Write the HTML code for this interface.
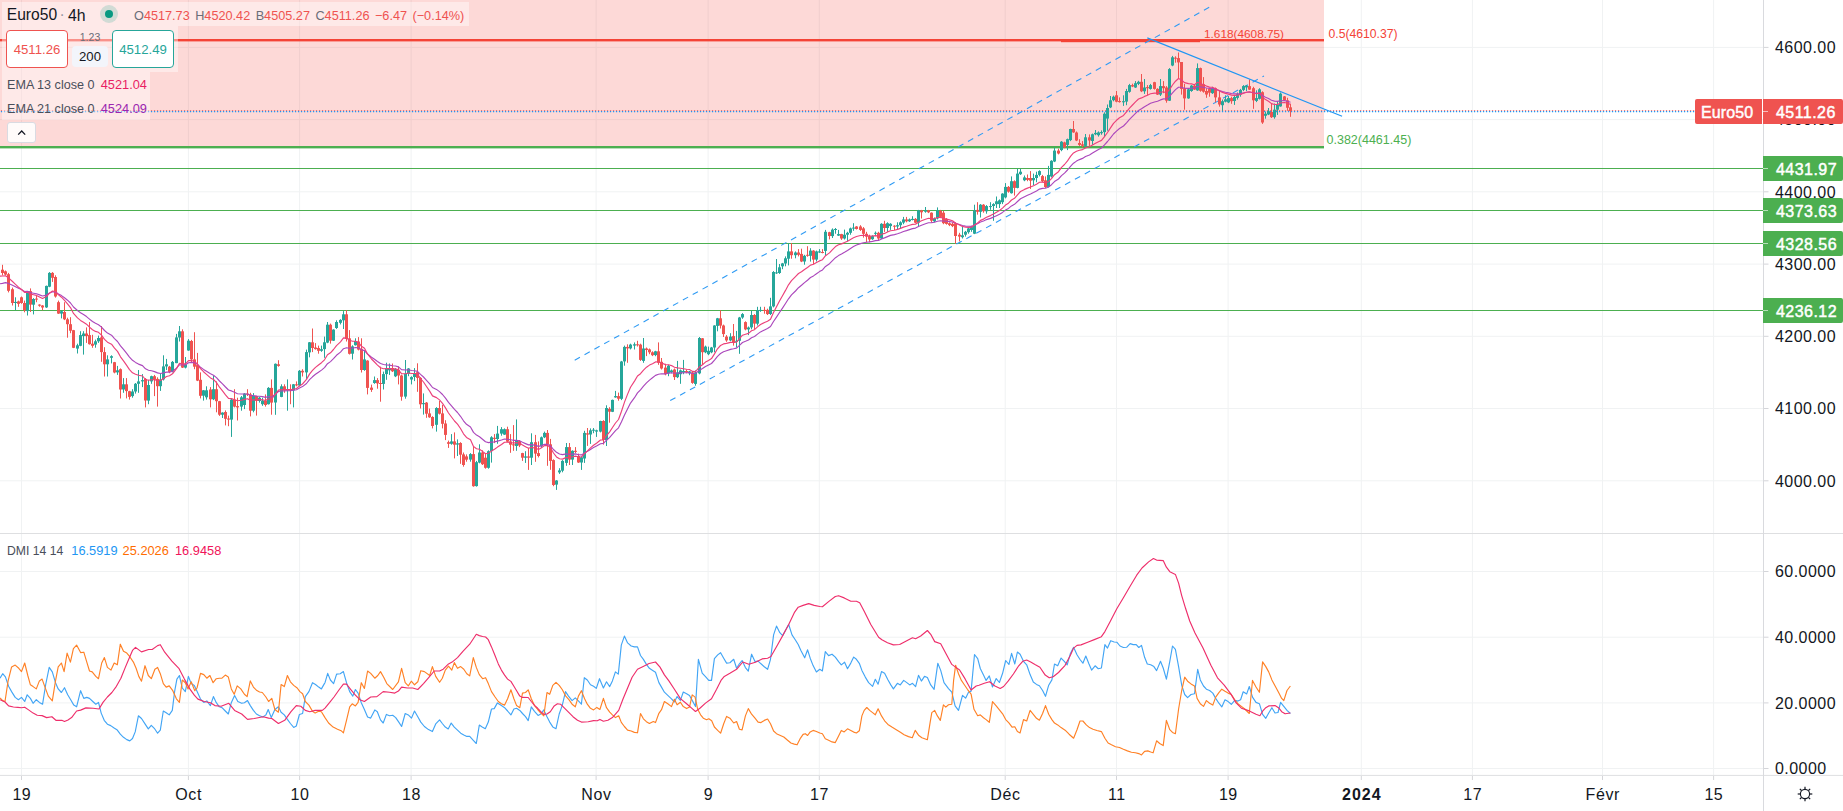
<!DOCTYPE html><html><head><meta charset="utf-8"><title>Euro50 4h</title><style>
html,body{margin:0;padding:0;background:#fff}
body{width:1843px;height:811px;position:relative;overflow:hidden;font-family:"Liberation Sans",sans-serif}
.t{position:absolute;white-space:nowrap;color:#131722}
.c{text-align:center}
.k{color:#6a6d78}
.lab{position:absolute;height:25px;line-height:28px;letter-spacing:0.45px;font-size:16px;color:#fff;box-sizing:border-box;white-space:nowrap;-webkit-text-stroke:0.45px #fff}
.lg{position:absolute;background:rgba(255,255,255,0.42)}
.btn{position:absolute;width:60px;height:35.5px;border:1px solid;border-radius:4px;background:#fff;text-align:center;font-size:13.2px;line-height:38.4px}
</style></head><body><svg width="1843" height="811" viewBox="0 0 1843 811" style="position:absolute;left:0;top:0"><rect x="21.0" y="0" width="1" height="775" fill="#f0f2f3"/><rect x="187.9" y="0" width="1" height="775" fill="#f0f2f3"/><rect x="299.1" y="0" width="1" height="775" fill="#f0f2f3"/><rect x="410.6" y="0" width="1" height="775" fill="#f0f2f3"/><rect x="595.6" y="0" width="1" height="775" fill="#f0f2f3"/><rect x="707.6" y="0" width="1" height="775" fill="#f0f2f3"/><rect x="818.8" y="0" width="1" height="775" fill="#f0f2f3"/><rect x="1004.7" y="0" width="1" height="775" fill="#f0f2f3"/><rect x="1116.0" y="0" width="1" height="775" fill="#f0f2f3"/><rect x="1227.6" y="0" width="1" height="775" fill="#f0f2f3"/><rect x="1360.8" y="0" width="1" height="775" fill="#f0f2f3"/><rect x="1471.9" y="0" width="1" height="775" fill="#f0f2f3"/><rect x="1602.0" y="0" width="1" height="775" fill="#f0f2f3"/><rect x="1713.1" y="0" width="1" height="775" fill="#f0f2f3"/><rect x="0" y="46.9" width="1763" height="1" fill="#f0f2f3"/><rect x="0" y="119.1" width="1763" height="1" fill="#f0f2f3"/><rect x="0" y="191.3" width="1763" height="1" fill="#f0f2f3"/><rect x="0" y="263.6" width="1763" height="1" fill="#f0f2f3"/><rect x="0" y="335.8" width="1763" height="1" fill="#f0f2f3"/><rect x="0" y="408.0" width="1763" height="1" fill="#f0f2f3"/><rect x="0" y="480.3" width="1763" height="1" fill="#f0f2f3"/><rect x="0" y="571.0" width="1763" height="1" fill="#f0f2f3"/><rect x="0" y="636.7" width="1763" height="1" fill="#f0f2f3"/><rect x="0" y="702.4" width="1763" height="1" fill="#f0f2f3"/><rect x="0" y="768.0" width="1763" height="1" fill="#f0f2f3"/>
<rect x="0" y="0" width="1324" height="147" fill="#f44336" fill-opacity="0.2"/>
<rect x="0" y="168" width="1763" height="1" fill="#4caf50"/>
<rect x="0" y="210" width="1763" height="1" fill="#4caf50"/>
<rect x="0" y="243" width="1763" height="1" fill="#4caf50"/>
<rect x="0" y="310" width="1763" height="1" fill="#4caf50"/>
<rect x="0" y="146" width="1324" height="2.4" fill="#4caf50"/>
<rect x="0" y="39" width="1324" height="2.4" fill="#f44336"/>
<rect x="1061" y="39.6" width="139" height="2.6" fill="#f44336"/>
<g stroke="#2f9bf4" stroke-width="1.1" stroke-dasharray="6 5.25" fill="none"><line x1="574.7" y1="360.2" x2="1213.6" y2="4.9"/><line x1="670.2" y1="400.6" x2="1264" y2="75.9"/></g>
<line x1="0.9" y1="110.5" x2="1695" y2="110.5" stroke="#ef5350" stroke-width="0.85" stroke-opacity="0.9" stroke-dasharray="1.3 1.7"/>
<line x1="0.9" y1="111.55" x2="1695" y2="111.55" stroke="#2196f3" stroke-width="1.25" stroke-dasharray="1.3 1.7"/>
<g><rect x="2" y="264.8" width="1" height="10.6" fill="#ef5350"/><rect x="5" y="270.5" width="1" height="4.9" fill="#ef5350"/><rect x="8" y="272.9" width="1" height="19.5" fill="#ef5350"/><rect x="12" y="287.6" width="1" height="17.9" fill="#ef5350"/><rect x="15" y="297.3" width="1" height="13.0" fill="#26a69a"/><rect x="18" y="300.6" width="1" height="6.2" fill="#ef5350"/><rect x="21" y="296.5" width="1" height="7.3" fill="#ef5350"/><rect x="24" y="300.6" width="1" height="11.7" fill="#ef5350"/><rect x="27" y="291.1" width="1" height="24.4" fill="#26a69a"/><rect x="30" y="288.4" width="1" height="23.6" fill="#ef5350"/><rect x="33" y="298.1" width="1" height="16.3" fill="#26a69a"/><rect x="36" y="295.7" width="1" height="6.5" fill="#ef5350"/><rect x="39" y="304.3" width="1" height="2.4" fill="#ef5350"/><rect x="42" y="305.1" width="1" height="5.2" fill="#ef5350"/><rect x="46" y="285.6" width="1" height="22.3" fill="#26a69a"/><rect x="49" y="272.1" width="1" height="15.1" fill="#26a69a"/><rect x="52" y="272.1" width="1" height="9.8" fill="#ef5350"/><rect x="55" y="275.3" width="1" height="22.3" fill="#ef5350"/><rect x="58" y="300.6" width="1" height="13.3" fill="#ef5350"/><rect x="61" y="310.3" width="1" height="8.1" fill="#26a69a"/><rect x="64" y="302.2" width="1" height="17.9" fill="#ef5350"/><rect x="67" y="317.7" width="1" height="20.0" fill="#ef5350"/><rect x="70" y="317.2" width="1" height="16.0" fill="#ef5350"/><rect x="73" y="329.9" width="1" height="18.2" fill="#ef5350"/><rect x="77" y="343.7" width="1" height="9.8" fill="#26a69a"/><rect x="80" y="331.2" width="1" height="15.0" fill="#26a69a"/><rect x="83" y="331.2" width="1" height="23.4" fill="#26a69a"/><rect x="86" y="327.4" width="1" height="15.5" fill="#ef5350"/><rect x="89" y="322.1" width="1" height="22.5" fill="#ef5350"/><rect x="92" y="334.8" width="1" height="13.0" fill="#ef5350"/><rect x="95" y="339.6" width="1" height="8.1" fill="#26a69a"/><rect x="98" y="335.6" width="1" height="7.3" fill="#26a69a"/><rect x="101" y="326.0" width="1" height="35.8" fill="#ef5350"/><rect x="104" y="347.2" width="1" height="29.3" fill="#ef5350"/><rect x="107" y="355.3" width="1" height="21.2" fill="#26a69a"/><rect x="111" y="355.3" width="1" height="8.1" fill="#26a69a"/><rect x="114" y="361.9" width="1" height="11.4" fill="#ef5350"/><rect x="117" y="365.9" width="1" height="9.0" fill="#26a69a"/><rect x="120" y="368.4" width="1" height="30.1" fill="#ef5350"/><rect x="123" y="378.1" width="1" height="14.7" fill="#26a69a"/><rect x="126" y="378.1" width="1" height="20.3" fill="#ef5350"/><rect x="129" y="390.8" width="1" height="8.8" fill="#ef5350"/><rect x="132" y="389.2" width="1" height="8.5" fill="#26a69a"/><rect x="135" y="383.0" width="1" height="10.6" fill="#26a69a"/><rect x="138" y="370.0" width="1" height="22.8" fill="#26a69a"/><rect x="142" y="374.1" width="1" height="13.0" fill="#26a69a"/><rect x="145" y="378.1" width="1" height="29.3" fill="#ef5350"/><rect x="148" y="379.8" width="1" height="24.4" fill="#26a69a"/><rect x="151" y="375.7" width="1" height="8.1" fill="#26a69a"/><rect x="154" y="374.9" width="1" height="21.2" fill="#ef5350"/><rect x="157" y="377.3" width="1" height="29.3" fill="#ef5350"/><rect x="160" y="373.3" width="1" height="17.6" fill="#26a69a"/><rect x="163" y="355.3" width="1" height="25.2" fill="#26a69a"/><rect x="166" y="358.9" width="1" height="11.1" fill="#26a69a"/><rect x="169" y="365.9" width="1" height="7.3" fill="#ef5350"/><rect x="172" y="361.0" width="1" height="11.4" fill="#26a69a"/><rect x="176" y="333.9" width="1" height="29.3" fill="#26a69a"/><rect x="179" y="326.0" width="1" height="15.5" fill="#26a69a"/><rect x="182" y="329.3" width="1" height="38.7" fill="#ef5350"/><rect x="185" y="357.0" width="1" height="11.4" fill="#26a69a"/><rect x="188" y="339.1" width="1" height="11.7" fill="#26a69a"/><rect x="191" y="339.9" width="1" height="22.8" fill="#ef5350"/><rect x="194" y="332.2" width="1" height="37.0" fill="#ef5350"/><rect x="197" y="352.9" width="1" height="28.2" fill="#ef5350"/><rect x="200" y="372.4" width="1" height="26.0" fill="#ef5350"/><rect x="203" y="390.0" width="1" height="10.6" fill="#26a69a"/><rect x="206" y="386.3" width="1" height="13.3" fill="#26a69a"/><rect x="210" y="387.1" width="1" height="20.3" fill="#ef5350"/><rect x="213" y="375.7" width="1" height="24.4" fill="#26a69a"/><rect x="216" y="381.4" width="1" height="30.9" fill="#ef5350"/><rect x="219" y="400.9" width="1" height="15.0" fill="#ef5350"/><rect x="222" y="412.3" width="1" height="5.7" fill="#26a69a"/><rect x="225" y="410.4" width="1" height="15.0" fill="#ef5350"/><rect x="228" y="415.6" width="1" height="10.6" fill="#ef5350"/><rect x="231" y="398.5" width="1" height="38.4" fill="#26a69a"/><rect x="234" y="389.2" width="1" height="18.2" fill="#ef5350"/><rect x="237" y="397.7" width="1" height="22.8" fill="#ef5350"/><rect x="241" y="396.0" width="1" height="14.7" fill="#26a69a"/><rect x="244" y="393.1" width="1" height="16.0" fill="#26a69a"/><rect x="247" y="389.2" width="1" height="6.8" fill="#ef5350"/><rect x="250" y="392.8" width="1" height="23.6" fill="#ef5350"/><rect x="253" y="393.1" width="1" height="19.2" fill="#26a69a"/><rect x="256" y="395.7" width="1" height="19.9" fill="#ef5350"/><rect x="259" y="396.9" width="1" height="5.7" fill="#26a69a"/><rect x="262" y="397.7" width="1" height="8.1" fill="#26a69a"/><rect x="265" y="394.4" width="1" height="12.2" fill="#ef5350"/><rect x="268" y="387.1" width="1" height="17.4" fill="#26a69a"/><rect x="271" y="379.4" width="1" height="35.3" fill="#ef5350"/><rect x="275" y="363.5" width="1" height="51.3" fill="#26a69a"/><rect x="278" y="360.2" width="1" height="6.5" fill="#ef5350"/><rect x="281" y="384.3" width="1" height="12.9" fill="#26a69a"/><rect x="284" y="384.3" width="1" height="8.5" fill="#ef5350"/><rect x="287" y="379.4" width="1" height="31.3" fill="#26a69a"/><rect x="290" y="384.3" width="1" height="19.9" fill="#ef5350"/><rect x="293" y="384.0" width="1" height="23.4" fill="#26a69a"/><rect x="296" y="381.4" width="1" height="4.9" fill="#ef5350"/><rect x="299" y="370.0" width="1" height="16.3" fill="#26a69a"/><rect x="302" y="369.2" width="1" height="7.3" fill="#ef5350"/><rect x="306" y="349.6" width="1" height="29.3" fill="#26a69a"/><rect x="309" y="342.0" width="1" height="15.3" fill="#26a69a"/><rect x="312" y="328.5" width="1" height="23.6" fill="#ef5350"/><rect x="315" y="343.1" width="1" height="6.5" fill="#ef5350"/><rect x="318" y="345.6" width="1" height="8.1" fill="#ef5350"/><rect x="321" y="345.6" width="1" height="6.2" fill="#26a69a"/><rect x="324" y="336.6" width="1" height="21.2" fill="#26a69a"/><rect x="327" y="322.0" width="1" height="21.2" fill="#26a69a"/><rect x="330" y="323.6" width="1" height="20.0" fill="#ef5350"/><rect x="333" y="329.3" width="1" height="11.7" fill="#26a69a"/><rect x="336" y="320.3" width="1" height="8.6" fill="#26a69a"/><rect x="340" y="319.2" width="1" height="5.2" fill="#26a69a"/><rect x="343" y="311.1" width="1" height="17.9" fill="#26a69a"/><rect x="346" y="310.1" width="1" height="31.4" fill="#ef5350"/><rect x="349" y="330.1" width="1" height="24.4" fill="#ef5350"/><rect x="352" y="345.3" width="1" height="14.2" fill="#26a69a"/><rect x="355" y="338.3" width="1" height="7.3" fill="#26a69a"/><rect x="358" y="337.1" width="1" height="13.3" fill="#ef5350"/><rect x="361" y="338.3" width="1" height="34.2" fill="#ef5350"/><rect x="364" y="350.8" width="1" height="20.0" fill="#26a69a"/><rect x="367" y="360.2" width="1" height="34.2" fill="#ef5350"/><rect x="371" y="384.6" width="1" height="7.3" fill="#ef5350"/><rect x="374" y="376.5" width="1" height="7.3" fill="#26a69a"/><rect x="377" y="378.1" width="1" height="10.6" fill="#ef5350"/><rect x="380" y="366.7" width="1" height="35.0" fill="#ef5350"/><rect x="383" y="371.6" width="1" height="17.9" fill="#26a69a"/><rect x="386" y="362.7" width="1" height="17.1" fill="#26a69a"/><rect x="389" y="363.5" width="1" height="11.4" fill="#26a69a"/><rect x="392" y="363.5" width="1" height="8.5" fill="#ef5350"/><rect x="395" y="368.1" width="1" height="9.0" fill="#26a69a"/><rect x="398" y="366.5" width="1" height="17.9" fill="#ef5350"/><rect x="401" y="374.7" width="1" height="26.0" fill="#ef5350"/><rect x="405" y="360.0" width="1" height="38.7" fill="#26a69a"/><rect x="408" y="368.1" width="1" height="8.1" fill="#26a69a"/><rect x="411" y="376.3" width="1" height="8.1" fill="#26a69a"/><rect x="414" y="368.1" width="1" height="13.0" fill="#26a69a"/><rect x="417" y="363.3" width="1" height="28.5" fill="#ef5350"/><rect x="420" y="377.1" width="1" height="31.4" fill="#ef5350"/><rect x="423" y="393.4" width="1" height="21.2" fill="#26a69a"/><rect x="426" y="402.0" width="1" height="15.8" fill="#ef5350"/><rect x="429" y="408.5" width="1" height="9.3" fill="#ef5350"/><rect x="432" y="416.2" width="1" height="12.2" fill="#ef5350"/><rect x="436" y="407.2" width="1" height="24.4" fill="#26a69a"/><rect x="439" y="401.0" width="1" height="13.5" fill="#ef5350"/><rect x="442" y="404.8" width="1" height="23.6" fill="#ef5350"/><rect x="445" y="420.2" width="1" height="19.9" fill="#ef5350"/><rect x="448" y="440.6" width="1" height="7.3" fill="#ef5350"/><rect x="451" y="434.1" width="1" height="10.6" fill="#26a69a"/><rect x="454" y="432.4" width="1" height="26.0" fill="#ef5350"/><rect x="457" y="439.4" width="1" height="16.6" fill="#26a69a"/><rect x="460" y="442.2" width="1" height="21.6" fill="#ef5350"/><rect x="463" y="452.5" width="1" height="14.2" fill="#ef5350"/><rect x="466" y="454.4" width="1" height="7.3" fill="#ef5350"/><rect x="470" y="453.1" width="1" height="8.6" fill="#26a69a"/><rect x="473" y="446.3" width="1" height="40.4" fill="#ef5350"/><rect x="476" y="460.9" width="1" height="25.7" fill="#26a69a"/><rect x="479" y="444.3" width="1" height="19.0" fill="#26a69a"/><rect x="482" y="450.3" width="1" height="14.7" fill="#ef5350"/><rect x="485" y="453.6" width="1" height="15.1" fill="#ef5350"/><rect x="488" y="450.3" width="1" height="18.4" fill="#26a69a"/><rect x="491" y="436.2" width="1" height="26.4" fill="#26a69a"/><rect x="494" y="434.1" width="1" height="9.0" fill="#ef5350"/><rect x="497" y="425.9" width="1" height="17.9" fill="#26a69a"/><rect x="501" y="427.1" width="1" height="8.6" fill="#26a69a"/><rect x="504" y="428.4" width="1" height="6.5" fill="#26a69a"/><rect x="507" y="426.7" width="1" height="15.5" fill="#ef5350"/><rect x="510" y="434.1" width="1" height="18.7" fill="#ef5350"/><rect x="513" y="425.1" width="1" height="25.7" fill="#ef5350"/><rect x="516" y="419.4" width="1" height="31.4" fill="#26a69a"/><rect x="519" y="440.1" width="1" height="7.0" fill="#ef5350"/><rect x="522" y="452.8" width="1" height="8.1" fill="#ef5350"/><rect x="525" y="451.2" width="1" height="11.7" fill="#26a69a"/><rect x="528" y="447.9" width="1" height="22.0" fill="#ef5350"/><rect x="531" y="433.3" width="1" height="31.7" fill="#26a69a"/><rect x="535" y="434.9" width="1" height="26.9" fill="#ef5350"/><rect x="538" y="441.4" width="1" height="16.0" fill="#ef5350"/><rect x="541" y="436.5" width="1" height="11.4" fill="#26a69a"/><rect x="544" y="431.6" width="1" height="6.5" fill="#26a69a"/><rect x="547" y="430.0" width="1" height="35.8" fill="#ef5350"/><rect x="550" y="438.9" width="1" height="30.9" fill="#ef5350"/><rect x="553" y="459.3" width="1" height="26.9" fill="#ef5350"/><rect x="556" y="480.1" width="1" height="9.8" fill="#26a69a"/><rect x="559" y="468.2" width="1" height="5.7" fill="#26a69a"/><rect x="562" y="460.1" width="1" height="12.2" fill="#26a69a"/><rect x="566" y="443.0" width="1" height="22.8" fill="#26a69a"/><rect x="569" y="443.0" width="1" height="22.0" fill="#ef5350"/><rect x="572" y="450.3" width="1" height="14.7" fill="#26a69a"/><rect x="575" y="447.1" width="1" height="6.0" fill="#ef5350"/><rect x="578" y="453.6" width="1" height="9.3" fill="#ef5350"/><rect x="581" y="456.4" width="1" height="13.5" fill="#26a69a"/><rect x="584" y="430.8" width="1" height="32.1" fill="#26a69a"/><rect x="587" y="428.0" width="1" height="17.9" fill="#ef5350"/><rect x="590" y="428.4" width="1" height="15.5" fill="#26a69a"/><rect x="593" y="428.0" width="1" height="5.2" fill="#26a69a"/><rect x="596" y="429.7" width="1" height="7.2" fill="#26a69a"/><rect x="600" y="420.7" width="1" height="11.7" fill="#26a69a"/><rect x="603" y="420.2" width="1" height="24.4" fill="#ef5350"/><rect x="606" y="405.3" width="1" height="40.7" fill="#26a69a"/><rect x="609" y="407.2" width="1" height="15.5" fill="#ef5350"/><rect x="612" y="399.6" width="1" height="12.5" fill="#26a69a"/><rect x="615" y="390.9" width="1" height="6.8" fill="#26a69a"/><rect x="618" y="392.6" width="1" height="8.1" fill="#ef5350"/><rect x="621" y="360.9" width="1" height="39.2" fill="#26a69a"/><rect x="624" y="345.6" width="1" height="20.1" fill="#26a69a"/><rect x="627" y="344.3" width="1" height="18.5" fill="#ef5350"/><rect x="630" y="343.7" width="1" height="5.7" fill="#26a69a"/><rect x="634" y="342.4" width="1" height="7.1" fill="#26a69a"/><rect x="637" y="340.8" width="1" height="5.7" fill="#ef5350"/><rect x="640" y="343.7" width="1" height="17.2" fill="#ef5350"/><rect x="643" y="338.0" width="1" height="24.8" fill="#26a69a"/><rect x="646" y="347.5" width="1" height="8.6" fill="#ef5350"/><rect x="649" y="348.5" width="1" height="5.7" fill="#ef5350"/><rect x="652" y="351.3" width="1" height="4.8" fill="#ef5350"/><rect x="655" y="350.8" width="1" height="5.4" fill="#26a69a"/><rect x="658" y="342.4" width="1" height="22.4" fill="#ef5350"/><rect x="661" y="358.0" width="1" height="11.5" fill="#ef5350"/><rect x="665" y="363.8" width="1" height="11.5" fill="#ef5350"/><rect x="668" y="364.7" width="1" height="11.5" fill="#26a69a"/><rect x="671" y="369.5" width="1" height="3.8" fill="#26a69a"/><rect x="674" y="368.5" width="1" height="11.5" fill="#ef5350"/><rect x="677" y="360.9" width="1" height="17.2" fill="#26a69a"/><rect x="680" y="369.5" width="1" height="14.3" fill="#26a69a"/><rect x="683" y="359.9" width="1" height="14.3" fill="#26a69a"/><rect x="686" y="369.5" width="1" height="3.8" fill="#ef5350"/><rect x="689" y="371.0" width="1" height="4.2" fill="#26a69a"/><rect x="692" y="371.4" width="1" height="12.4" fill="#ef5350"/><rect x="695" y="370.4" width="1" height="15.3" fill="#26a69a"/><rect x="699" y="337.0" width="1" height="37.3" fill="#26a69a"/><rect x="702" y="338.0" width="1" height="26.8" fill="#ef5350"/><rect x="705" y="345.6" width="1" height="7.6" fill="#26a69a"/><rect x="708" y="346.6" width="1" height="8.6" fill="#26a69a"/><rect x="711" y="346.9" width="1" height="6.3" fill="#26a69a"/><rect x="714" y="325.2" width="1" height="27.1" fill="#26a69a"/><rect x="717" y="317.9" width="1" height="13.4" fill="#26a69a"/><rect x="720" y="310.3" width="1" height="18.2" fill="#ef5350"/><rect x="723" y="324.6" width="1" height="12.4" fill="#ef5350"/><rect x="726" y="335.1" width="1" height="6.7" fill="#ef5350"/><rect x="730" y="333.2" width="1" height="8.0" fill="#26a69a"/><rect x="733" y="324.0" width="1" height="21.6" fill="#ef5350"/><rect x="736" y="330.9" width="1" height="16.6" fill="#26a69a"/><rect x="739" y="316.9" width="1" height="36.9" fill="#26a69a"/><rect x="742" y="313.1" width="1" height="5.7" fill="#26a69a"/><rect x="745" y="321.3" width="1" height="9.0" fill="#ef5350"/><rect x="748" y="326.5" width="1" height="8.6" fill="#26a69a"/><rect x="751" y="310.6" width="1" height="18.7" fill="#26a69a"/><rect x="754" y="314.1" width="1" height="15.3" fill="#ef5350"/><rect x="757" y="306.8" width="1" height="18.7" fill="#26a69a"/><rect x="760" y="306.8" width="1" height="5.0" fill="#26a69a"/><rect x="764" y="306.8" width="1" height="6.9" fill="#ef5350"/><rect x="767" y="308.7" width="1" height="6.3" fill="#ef5350"/><rect x="770" y="297.8" width="1" height="17.2" fill="#26a69a"/><rect x="773" y="271.1" width="1" height="36.3" fill="#26a69a"/><rect x="776" y="259.0" width="1" height="14.9" fill="#26a69a"/><rect x="779" y="264.0" width="1" height="9.9" fill="#26a69a"/><rect x="782" y="262.9" width="1" height="6.3" fill="#26a69a"/><rect x="785" y="256.4" width="1" height="9.9" fill="#26a69a"/><rect x="788" y="243.4" width="1" height="22.0" fill="#26a69a"/><rect x="791" y="243.0" width="1" height="15.7" fill="#ef5350"/><rect x="795" y="251.4" width="1" height="6.9" fill="#26a69a"/><rect x="798" y="249.1" width="1" height="7.3" fill="#ef5350"/><rect x="801" y="248.7" width="1" height="13.4" fill="#ef5350"/><rect x="804" y="254.8" width="1" height="9.9" fill="#26a69a"/><rect x="807" y="246.2" width="1" height="10.5" fill="#ef5350"/><rect x="810" y="248.2" width="1" height="13.4" fill="#26a69a"/><rect x="813" y="250.1" width="1" height="14.3" fill="#ef5350"/><rect x="816" y="250.6" width="1" height="10.9" fill="#26a69a"/><rect x="819" y="249.1" width="1" height="3.8" fill="#26a69a"/><rect x="822" y="249.1" width="1" height="4.2" fill="#ef5350"/><rect x="825" y="229.9" width="1" height="25.8" fill="#26a69a"/><rect x="829" y="231.8" width="1" height="7.6" fill="#ef5350"/><rect x="832" y="228.4" width="1" height="9.6" fill="#26a69a"/><rect x="835" y="228.0" width="1" height="5.7" fill="#26a69a"/><rect x="838" y="229.9" width="1" height="6.1" fill="#26a69a"/><rect x="841" y="233.8" width="1" height="6.1" fill="#ef5350"/><rect x="844" y="229.6" width="1" height="9.9" fill="#26a69a"/><rect x="847" y="231.8" width="1" height="9.6" fill="#26a69a"/><rect x="850" y="227.6" width="1" height="7.1" fill="#26a69a"/><rect x="853" y="223.2" width="1" height="7.6" fill="#26a69a"/><rect x="856" y="226.1" width="1" height="3.4" fill="#ef5350"/><rect x="860" y="225.2" width="1" height="5.7" fill="#ef5350"/><rect x="863" y="227.1" width="1" height="10.5" fill="#ef5350"/><rect x="866" y="231.8" width="1" height="10.5" fill="#ef5350"/><rect x="869" y="234.7" width="1" height="7.6" fill="#ef5350"/><rect x="872" y="235.3" width="1" height="4.6" fill="#26a69a"/><rect x="875" y="231.5" width="1" height="4.6" fill="#26a69a"/><rect x="878" y="231.8" width="1" height="8.6" fill="#ef5350"/><rect x="881" y="223.2" width="1" height="15.9" fill="#26a69a"/><rect x="884" y="220.8" width="1" height="11.1" fill="#ef5350"/><rect x="887" y="222.3" width="1" height="9.6" fill="#26a69a"/><rect x="890" y="223.2" width="1" height="6.7" fill="#26a69a"/><rect x="894" y="225.2" width="1" height="4.8" fill="#ef5350"/><rect x="897" y="222.3" width="1" height="6.7" fill="#26a69a"/><rect x="900" y="221.3" width="1" height="6.7" fill="#26a69a"/><rect x="903" y="216.9" width="1" height="7.3" fill="#26a69a"/><rect x="906" y="216.9" width="1" height="5.4" fill="#ef5350"/><rect x="909" y="218.5" width="1" height="3.4" fill="#26a69a"/><rect x="912" y="216.2" width="1" height="4.2" fill="#26a69a"/><rect x="915" y="218.1" width="1" height="5.2" fill="#ef5350"/><rect x="918" y="209.9" width="1" height="16.2" fill="#26a69a"/><rect x="921" y="209.9" width="1" height="8.6" fill="#ef5350"/><rect x="925" y="207.0" width="1" height="5.7" fill="#26a69a"/><rect x="928" y="209.9" width="1" height="3.2" fill="#ef5350"/><rect x="931" y="212.4" width="1" height="9.9" fill="#ef5350"/><rect x="934" y="217.5" width="1" height="4.8" fill="#26a69a"/><rect x="937" y="207.4" width="1" height="12.0" fill="#26a69a"/><rect x="940" y="209.9" width="1" height="8.2" fill="#ef5350"/><rect x="943" y="210.8" width="1" height="13.4" fill="#ef5350"/><rect x="946" y="218.1" width="1" height="6.5" fill="#ef5350"/><rect x="949" y="222.3" width="1" height="3.8" fill="#ef5350"/><rect x="952" y="222.3" width="1" height="4.8" fill="#ef5350"/><rect x="955" y="222.3" width="1" height="21.4" fill="#ef5350"/><rect x="959" y="232.8" width="1" height="8.6" fill="#ef5350"/><rect x="962" y="226.1" width="1" height="12.4" fill="#26a69a"/><rect x="965" y="230.9" width="1" height="5.7" fill="#26a69a"/><rect x="968" y="227.6" width="1" height="6.1" fill="#26a69a"/><rect x="971" y="225.7" width="1" height="6.1" fill="#26a69a"/><rect x="974" y="204.7" width="1" height="29.4" fill="#26a69a"/><rect x="977" y="202.2" width="1" height="12.4" fill="#ef5350"/><rect x="980" y="204.1" width="1" height="13.4" fill="#26a69a"/><rect x="983" y="204.1" width="1" height="8.6" fill="#ef5350"/><rect x="986" y="205.1" width="1" height="8.6" fill="#26a69a"/><rect x="990" y="202.2" width="1" height="7.6" fill="#26a69a"/><rect x="993" y="203.2" width="1" height="17.6" fill="#26a69a"/><rect x="996" y="196.5" width="1" height="11.5" fill="#26a69a"/><rect x="999" y="199.4" width="1" height="8.6" fill="#26a69a"/><rect x="1002" y="193.2" width="1" height="10.9" fill="#26a69a"/><rect x="1005" y="183.1" width="1" height="15.3" fill="#26a69a"/><rect x="1008" y="186.0" width="1" height="6.7" fill="#ef5350"/><rect x="1011" y="176.4" width="1" height="17.2" fill="#26a69a"/><rect x="1014" y="180.3" width="1" height="15.3" fill="#ef5350"/><rect x="1017" y="168.8" width="1" height="19.5" fill="#26a69a"/><rect x="1020" y="168.8" width="1" height="6.1" fill="#26a69a"/><rect x="1024" y="175.5" width="1" height="5.7" fill="#26a69a"/><rect x="1027" y="174.5" width="1" height="6.7" fill="#ef5350"/><rect x="1030" y="171.1" width="1" height="17.8" fill="#ef5350"/><rect x="1033" y="173.6" width="1" height="11.5" fill="#26a69a"/><rect x="1036" y="171.7" width="1" height="10.5" fill="#26a69a"/><rect x="1039" y="170.3" width="1" height="6.1" fill="#26a69a"/><rect x="1042" y="174.9" width="1" height="7.3" fill="#ef5350"/><rect x="1045" y="176.4" width="1" height="11.5" fill="#ef5350"/><rect x="1048" y="165.9" width="1" height="21.6" fill="#26a69a"/><rect x="1051" y="160.2" width="1" height="17.2" fill="#26a69a"/><rect x="1054" y="147.8" width="1" height="14.3" fill="#26a69a"/><rect x="1058" y="148.7" width="1" height="5.7" fill="#ef5350"/><rect x="1061" y="141.1" width="1" height="10.1" fill="#26a69a"/><rect x="1064" y="141.7" width="1" height="6.5" fill="#ef5350"/><rect x="1067" y="138.6" width="1" height="11.5" fill="#26a69a"/><rect x="1070" y="128.7" width="1" height="12.4" fill="#26a69a"/><rect x="1073" y="121.0" width="1" height="11.8" fill="#ef5350"/><rect x="1076" y="131.5" width="1" height="9.6" fill="#ef5350"/><rect x="1079" y="139.2" width="1" height="6.7" fill="#ef5350"/><rect x="1082" y="141.1" width="1" height="6.3" fill="#ef5350"/><rect x="1085" y="134.0" width="1" height="12.8" fill="#26a69a"/><rect x="1089" y="134.4" width="1" height="11.5" fill="#ef5350"/><rect x="1092" y="133.6" width="1" height="11.3" fill="#26a69a"/><rect x="1095" y="130.0" width="1" height="5.2" fill="#26a69a"/><rect x="1098" y="131.4" width="1" height="5.2" fill="#26a69a"/><rect x="1101" y="130.4" width="1" height="4.3" fill="#26a69a"/><rect x="1104" y="112.3" width="1" height="24.8" fill="#26a69a"/><rect x="1107" y="104.5" width="1" height="26.2" fill="#26a69a"/><rect x="1110" y="96.0" width="1" height="12.1" fill="#26a69a"/><rect x="1113" y="95.6" width="1" height="5.7" fill="#26a69a"/><rect x="1116" y="91.0" width="1" height="11.3" fill="#ef5350"/><rect x="1119" y="97.4" width="1" height="5.2" fill="#ef5350"/><rect x="1123" y="95.3" width="1" height="10.6" fill="#26a69a"/><rect x="1126" y="88.9" width="1" height="16.3" fill="#26a69a"/><rect x="1129" y="83.9" width="1" height="8.8" fill="#26a69a"/><rect x="1132" y="83.7" width="1" height="3.4" fill="#ef5350"/><rect x="1135" y="81.1" width="1" height="6.8" fill="#26a69a"/><rect x="1138" y="80.8" width="1" height="4.3" fill="#26a69a"/><rect x="1141" y="74.0" width="1" height="18.1" fill="#ef5350"/><rect x="1144" y="79.0" width="1" height="14.9" fill="#26a69a"/><rect x="1147" y="85.1" width="1" height="10.2" fill="#ef5350"/><rect x="1150" y="83.9" width="1" height="5.7" fill="#26a69a"/><rect x="1154" y="81.8" width="1" height="7.8" fill="#ef5350"/><rect x="1157" y="88.2" width="1" height="6.8" fill="#ef5350"/><rect x="1160" y="79.0" width="1" height="17.0" fill="#26a69a"/><rect x="1163" y="81.1" width="1" height="12.1" fill="#ef5350"/><rect x="1166" y="86.1" width="1" height="16.6" fill="#ef5350"/><rect x="1169" y="68.1" width="1" height="32.9" fill="#26a69a"/><rect x="1172" y="55.9" width="1" height="10.3" fill="#26a69a"/><rect x="1175" y="56.3" width="1" height="6.4" fill="#ef5350"/><rect x="1178" y="52.5" width="1" height="26.5" fill="#ef5350"/><rect x="1181" y="62.0" width="1" height="32.6" fill="#ef5350"/><rect x="1184" y="83.9" width="1" height="25.8" fill="#ef5350"/><rect x="1188" y="88.9" width="1" height="9.9" fill="#26a69a"/><rect x="1191" y="85.1" width="1" height="6.7" fill="#26a69a"/><rect x="1194" y="84.7" width="1" height="5.2" fill="#ef5350"/><rect x="1197" y="63.4" width="1" height="27.4" fill="#26a69a"/><rect x="1200" y="67.6" width="1" height="24.1" fill="#ef5350"/><rect x="1203" y="77.1" width="1" height="15.6" fill="#ef5350"/><rect x="1206" y="88.2" width="1" height="9.6" fill="#ef5350"/><rect x="1209" y="87.5" width="1" height="9.2" fill="#ef5350"/><rect x="1212" y="86.8" width="1" height="7.1" fill="#26a69a"/><rect x="1215" y="87.5" width="1" height="14.9" fill="#ef5350"/><rect x="1219" y="91.0" width="1" height="15.6" fill="#ef5350"/><rect x="1222" y="99.5" width="1" height="11.3" fill="#26a69a"/><rect x="1225" y="95.3" width="1" height="7.1" fill="#26a69a"/><rect x="1228" y="96.0" width="1" height="7.1" fill="#26a69a"/><rect x="1231" y="96.7" width="1" height="7.1" fill="#ef5350"/><rect x="1234" y="96.0" width="1" height="8.9" fill="#26a69a"/><rect x="1237" y="92.5" width="1" height="7.1" fill="#26a69a"/><rect x="1240" y="88.9" width="1" height="7.8" fill="#26a69a"/><rect x="1243" y="85.1" width="1" height="6.0" fill="#26a69a"/><rect x="1246" y="85.1" width="1" height="6.0" fill="#26a69a"/><rect x="1249" y="79.4" width="1" height="10.5" fill="#ef5350"/><rect x="1253" y="86.8" width="1" height="22.0" fill="#ef5350"/><rect x="1256" y="90.3" width="1" height="11.8" fill="#26a69a"/><rect x="1259" y="88.2" width="1" height="11.3" fill="#26a69a"/><rect x="1262" y="91.3" width="1" height="32.6" fill="#ef5350"/><rect x="1265" y="111.6" width="1" height="7.1" fill="#26a69a"/><rect x="1268" y="108.0" width="1" height="7.1" fill="#26a69a"/><rect x="1271" y="103.1" width="1" height="14.9" fill="#ef5350"/><rect x="1274" y="103.5" width="1" height="15.2" fill="#26a69a"/><rect x="1277" y="101.0" width="1" height="13.9" fill="#26a69a"/><rect x="1280" y="92.5" width="1" height="14.2" fill="#26a69a"/><rect x="1284" y="96.0" width="1" height="5.0" fill="#ef5350"/><rect x="1287" y="97.8" width="1" height="13.0" fill="#ef5350"/><rect x="1290" y="103.8" width="1" height="13.0" fill="#ef5350"/><rect x="1" y="269.7" width="3" height="3.3" fill="#ef5350"/><rect x="4" y="271.3" width="3" height="3.3" fill="#ef5350"/><rect x="7" y="274.2" width="3" height="16.6" fill="#ef5350"/><rect x="11" y="289.2" width="3" height="13.8" fill="#ef5350"/><rect x="14" y="301.9" width="3" height="1.1" fill="#26a69a"/><rect x="17" y="301.4" width="3" height="2.4" fill="#ef5350"/><rect x="20" y="297.3" width="3" height="5.7" fill="#ef5350"/><rect x="23" y="303.0" width="3" height="7.3" fill="#ef5350"/><rect x="26" y="291.1" width="3" height="20.0" fill="#26a69a"/><rect x="29" y="291.1" width="3" height="13.5" fill="#ef5350"/><rect x="32" y="299.0" width="3" height="5.7" fill="#26a69a"/><rect x="35" y="298.6" width="3" height="1.0" fill="#ef5350"/><rect x="38" y="304.6" width="3" height="1.1" fill="#ef5350"/><rect x="41" y="305.5" width="3" height="2.0" fill="#ef5350"/><rect x="45" y="285.9" width="3" height="21.5" fill="#26a69a"/><rect x="48" y="272.9" width="3" height="13.8" fill="#26a69a"/><rect x="51" y="272.9" width="3" height="4.9" fill="#ef5350"/><rect x="54" y="277.0" width="3" height="19.5" fill="#ef5350"/><rect x="57" y="302.2" width="3" height="11.4" fill="#ef5350"/><rect x="60" y="311.2" width="3" height="2.4" fill="#26a69a"/><rect x="63" y="312.0" width="3" height="7.3" fill="#ef5350"/><rect x="66" y="319.3" width="3" height="4.9" fill="#ef5350"/><rect x="69" y="324.2" width="3" height="6.5" fill="#ef5350"/><rect x="72" y="330.2" width="3" height="17.6" fill="#ef5350"/><rect x="76" y="345.3" width="3" height="3.3" fill="#26a69a"/><rect x="79" y="335.1" width="3" height="10.7" fill="#26a69a"/><rect x="82" y="333.5" width="3" height="2.6" fill="#26a69a"/><rect x="85" y="333.5" width="3" height="2.6" fill="#ef5350"/><rect x="88" y="335.1" width="3" height="9.1" fill="#ef5350"/><rect x="91" y="343.7" width="3" height="2.1" fill="#ef5350"/><rect x="94" y="341.3" width="3" height="3.3" fill="#26a69a"/><rect x="97" y="338.0" width="3" height="3.3" fill="#26a69a"/><rect x="100" y="337.4" width="3" height="14.7" fill="#ef5350"/><rect x="103" y="352.1" width="3" height="12.2" fill="#ef5350"/><rect x="106" y="359.4" width="3" height="4.9" fill="#26a69a"/><rect x="110" y="356.2" width="3" height="1.6" fill="#26a69a"/><rect x="113" y="362.2" width="3" height="10.3" fill="#ef5350"/><rect x="116" y="370.3" width="3" height="2.1" fill="#26a69a"/><rect x="119" y="369.2" width="3" height="20.3" fill="#ef5350"/><rect x="122" y="384.3" width="3" height="5.2" fill="#26a69a"/><rect x="125" y="384.3" width="3" height="6.8" fill="#ef5350"/><rect x="128" y="391.2" width="3" height="5.7" fill="#ef5350"/><rect x="131" y="391.5" width="3" height="4.6" fill="#26a69a"/><rect x="134" y="383.8" width="3" height="7.7" fill="#26a69a"/><rect x="137" y="381.4" width="3" height="2.4" fill="#26a69a"/><rect x="141" y="380.1" width="3" height="1.3" fill="#26a69a"/><rect x="144" y="378.9" width="3" height="21.6" fill="#ef5350"/><rect x="147" y="385.0" width="3" height="15.6" fill="#26a69a"/><rect x="150" y="376.2" width="3" height="5.2" fill="#26a69a"/><rect x="153" y="376.2" width="3" height="3.6" fill="#ef5350"/><rect x="156" y="378.9" width="3" height="7.3" fill="#ef5350"/><rect x="159" y="379.4" width="3" height="6.8" fill="#26a69a"/><rect x="162" y="366.4" width="3" height="13.0" fill="#26a69a"/><rect x="165" y="364.3" width="3" height="2.1" fill="#26a69a"/><rect x="168" y="366.7" width="3" height="5.2" fill="#ef5350"/><rect x="171" y="361.9" width="3" height="9.8" fill="#26a69a"/><rect x="175" y="337.4" width="3" height="25.7" fill="#26a69a"/><rect x="178" y="331.3" width="3" height="6.2" fill="#26a69a"/><rect x="181" y="331.3" width="3" height="36.3" fill="#ef5350"/><rect x="184" y="364.3" width="3" height="3.3" fill="#26a69a"/><rect x="187" y="340.7" width="3" height="9.8" fill="#26a69a"/><rect x="190" y="341.0" width="3" height="18.4" fill="#ef5350"/><rect x="193" y="359.4" width="3" height="7.3" fill="#ef5350"/><rect x="196" y="365.1" width="3" height="15.5" fill="#ef5350"/><rect x="199" y="379.8" width="3" height="16.0" fill="#ef5350"/><rect x="202" y="390.3" width="3" height="5.4" fill="#26a69a"/><rect x="205" y="390.3" width="3" height="7.0" fill="#26a69a"/><rect x="209" y="389.5" width="3" height="9.8" fill="#ef5350"/><rect x="212" y="389.2" width="3" height="10.1" fill="#26a69a"/><rect x="215" y="389.2" width="3" height="12.0" fill="#ef5350"/><rect x="218" y="401.2" width="3" height="13.5" fill="#ef5350"/><rect x="221" y="412.6" width="3" height="2.1" fill="#26a69a"/><rect x="224" y="412.0" width="3" height="6.8" fill="#ef5350"/><rect x="227" y="418.5" width="3" height="1.1" fill="#ef5350"/><rect x="230" y="399.6" width="3" height="20.0" fill="#26a69a"/><rect x="233" y="399.6" width="3" height="7.0" fill="#ef5350"/><rect x="236" y="406.1" width="3" height="1.3" fill="#ef5350"/><rect x="240" y="397.3" width="3" height="9.3" fill="#26a69a"/><rect x="243" y="393.6" width="3" height="11.4" fill="#26a69a"/><rect x="246" y="393.6" width="3" height="1.0" fill="#ef5350"/><rect x="249" y="394.4" width="3" height="16.3" fill="#ef5350"/><rect x="252" y="396.0" width="3" height="14.7" fill="#26a69a"/><rect x="255" y="396.0" width="3" height="4.9" fill="#ef5350"/><rect x="258" y="397.7" width="3" height="3.3" fill="#26a69a"/><rect x="261" y="400.6" width="3" height="3.6" fill="#26a69a"/><rect x="264" y="400.6" width="3" height="4.4" fill="#ef5350"/><rect x="267" y="387.9" width="3" height="16.3" fill="#26a69a"/><rect x="270" y="387.9" width="3" height="14.7" fill="#ef5350"/><rect x="274" y="363.8" width="3" height="38.7" fill="#26a69a"/><rect x="277" y="364.3" width="3" height="1.6" fill="#ef5350"/><rect x="280" y="386.3" width="3" height="10.6" fill="#26a69a"/><rect x="283" y="386.3" width="3" height="4.1" fill="#ef5350"/><rect x="286" y="389.2" width="3" height="1.1" fill="#26a69a"/><rect x="289" y="389.2" width="3" height="1.1" fill="#ef5350"/><rect x="292" y="384.3" width="3" height="6.0" fill="#26a69a"/><rect x="295" y="384.3" width="3" height="1.1" fill="#ef5350"/><rect x="298" y="370.8" width="3" height="14.7" fill="#26a69a"/><rect x="301" y="370.8" width="3" height="1.6" fill="#ef5350"/><rect x="305" y="352.1" width="3" height="20.3" fill="#26a69a"/><rect x="308" y="342.3" width="3" height="10.1" fill="#26a69a"/><rect x="311" y="342.3" width="3" height="5.7" fill="#ef5350"/><rect x="314" y="347.5" width="3" height="1.6" fill="#ef5350"/><rect x="317" y="348.0" width="3" height="2.8" fill="#ef5350"/><rect x="320" y="349.2" width="3" height="1.6" fill="#26a69a"/><rect x="323" y="342.3" width="3" height="6.8" fill="#26a69a"/><rect x="326" y="324.7" width="3" height="17.9" fill="#26a69a"/><rect x="329" y="324.7" width="3" height="16.0" fill="#ef5350"/><rect x="332" y="329.6" width="3" height="11.1" fill="#26a69a"/><rect x="335" y="322.0" width="3" height="6.0" fill="#26a69a"/><rect x="339" y="319.9" width="3" height="2.9" fill="#26a69a"/><rect x="342" y="314.3" width="3" height="6.0" fill="#26a69a"/><rect x="345" y="314.3" width="3" height="24.7" fill="#ef5350"/><rect x="348" y="338.3" width="3" height="15.5" fill="#ef5350"/><rect x="351" y="346.4" width="3" height="7.3" fill="#26a69a"/><rect x="354" y="341.0" width="3" height="4.2" fill="#26a69a"/><rect x="357" y="341.5" width="3" height="8.1" fill="#ef5350"/><rect x="360" y="348.8" width="3" height="21.2" fill="#ef5350"/><rect x="363" y="359.4" width="3" height="10.6" fill="#26a69a"/><rect x="366" y="360.6" width="3" height="27.3" fill="#ef5350"/><rect x="370" y="387.6" width="3" height="2.3" fill="#ef5350"/><rect x="373" y="380.1" width="3" height="2.9" fill="#26a69a"/><rect x="376" y="380.1" width="3" height="3.3" fill="#ef5350"/><rect x="379" y="383.0" width="3" height="1.0" fill="#ef5350"/><rect x="382" y="374.1" width="3" height="9.8" fill="#26a69a"/><rect x="385" y="368.4" width="3" height="5.7" fill="#26a69a"/><rect x="388" y="368.0" width="3" height="2.3" fill="#26a69a"/><rect x="391" y="368.0" width="3" height="3.3" fill="#ef5350"/><rect x="394" y="369.0" width="3" height="7.3" fill="#26a69a"/><rect x="397" y="369.8" width="3" height="5.7" fill="#ef5350"/><rect x="400" y="375.5" width="3" height="21.2" fill="#ef5350"/><rect x="404" y="373.8" width="3" height="22.8" fill="#26a69a"/><rect x="407" y="368.5" width="3" height="5.4" fill="#26a69a"/><rect x="410" y="377.1" width="3" height="2.4" fill="#26a69a"/><rect x="413" y="373.3" width="3" height="3.7" fill="#26a69a"/><rect x="416" y="372.2" width="3" height="5.7" fill="#ef5350"/><rect x="419" y="377.9" width="3" height="26.4" fill="#ef5350"/><rect x="422" y="403.1" width="3" height="1.1" fill="#26a69a"/><rect x="425" y="402.6" width="3" height="11.1" fill="#ef5350"/><rect x="428" y="413.4" width="3" height="3.9" fill="#ef5350"/><rect x="431" y="417.0" width="3" height="9.0" fill="#ef5350"/><rect x="435" y="408.0" width="3" height="16.8" fill="#26a69a"/><rect x="438" y="408.0" width="3" height="5.7" fill="#ef5350"/><rect x="441" y="413.4" width="3" height="10.4" fill="#ef5350"/><rect x="444" y="423.5" width="3" height="11.4" fill="#ef5350"/><rect x="447" y="442.2" width="3" height="1.6" fill="#ef5350"/><rect x="450" y="441.4" width="3" height="2.4" fill="#26a69a"/><rect x="453" y="441.4" width="3" height="3.3" fill="#ef5350"/><rect x="456" y="443.3" width="3" height="1.3" fill="#26a69a"/><rect x="459" y="443.0" width="3" height="11.7" fill="#ef5350"/><rect x="462" y="454.4" width="3" height="10.6" fill="#ef5350"/><rect x="465" y="456.4" width="3" height="3.3" fill="#ef5350"/><rect x="469" y="454.1" width="3" height="5.5" fill="#26a69a"/><rect x="472" y="454.1" width="3" height="32.1" fill="#ef5350"/><rect x="475" y="462.2" width="3" height="23.9" fill="#26a69a"/><rect x="478" y="452.5" width="3" height="10.1" fill="#26a69a"/><rect x="481" y="452.5" width="3" height="11.7" fill="#ef5350"/><rect x="484" y="457.7" width="3" height="10.1" fill="#ef5350"/><rect x="487" y="451.2" width="3" height="16.6" fill="#26a69a"/><rect x="490" y="437.3" width="3" height="13.8" fill="#26a69a"/><rect x="493" y="437.8" width="3" height="1.1" fill="#ef5350"/><rect x="496" y="433.6" width="3" height="5.4" fill="#26a69a"/><rect x="500" y="429.2" width="3" height="4.4" fill="#26a69a"/><rect x="503" y="429.2" width="3" height="5.4" fill="#26a69a"/><rect x="506" y="429.2" width="3" height="12.5" fill="#ef5350"/><rect x="509" y="441.4" width="3" height="3.3" fill="#ef5350"/><rect x="512" y="444.3" width="3" height="1.1" fill="#ef5350"/><rect x="515" y="440.6" width="3" height="5.4" fill="#26a69a"/><rect x="518" y="441.1" width="3" height="4.4" fill="#ef5350"/><rect x="521" y="453.1" width="3" height="4.6" fill="#ef5350"/><rect x="524" y="456.4" width="3" height="1.3" fill="#26a69a"/><rect x="527" y="456.4" width="3" height="1.3" fill="#ef5350"/><rect x="530" y="442.2" width="3" height="15.5" fill="#26a69a"/><rect x="534" y="442.2" width="3" height="11.4" fill="#ef5350"/><rect x="537" y="453.1" width="3" height="2.9" fill="#ef5350"/><rect x="540" y="437.3" width="3" height="9.0" fill="#26a69a"/><rect x="543" y="432.9" width="3" height="4.4" fill="#26a69a"/><rect x="546" y="432.9" width="3" height="11.7" fill="#ef5350"/><rect x="549" y="444.3" width="3" height="16.6" fill="#ef5350"/><rect x="552" y="460.1" width="3" height="24.9" fill="#ef5350"/><rect x="555" y="480.5" width="3" height="4.1" fill="#26a69a"/><rect x="558" y="470.4" width="3" height="2.0" fill="#26a69a"/><rect x="561" y="460.9" width="3" height="9.8" fill="#26a69a"/><rect x="565" y="447.1" width="3" height="15.8" fill="#26a69a"/><rect x="568" y="447.1" width="3" height="12.5" fill="#ef5350"/><rect x="571" y="450.8" width="3" height="8.8" fill="#26a69a"/><rect x="574" y="450.8" width="3" height="1.1" fill="#ef5350"/><rect x="577" y="456.0" width="3" height="6.5" fill="#ef5350"/><rect x="580" y="457.3" width="3" height="5.2" fill="#26a69a"/><rect x="583" y="432.9" width="3" height="25.6" fill="#26a69a"/><rect x="586" y="433.3" width="3" height="1.3" fill="#ef5350"/><rect x="589" y="430.3" width="3" height="4.2" fill="#26a69a"/><rect x="592" y="429.7" width="3" height="1.0" fill="#26a69a"/><rect x="595" y="430.3" width="3" height="1.3" fill="#26a69a"/><rect x="599" y="421.0" width="3" height="10.6" fill="#26a69a"/><rect x="602" y="421.0" width="3" height="19.0" fill="#ef5350"/><rect x="605" y="408.0" width="3" height="32.1" fill="#26a69a"/><rect x="608" y="408.8" width="3" height="2.9" fill="#ef5350"/><rect x="611" y="399.9" width="3" height="11.9" fill="#26a69a"/><rect x="614" y="396.1" width="3" height="1.3" fill="#26a69a"/><rect x="617" y="396.1" width="3" height="2.6" fill="#ef5350"/><rect x="620" y="361.5" width="3" height="37.3" fill="#26a69a"/><rect x="623" y="346.9" width="3" height="14.5" fill="#26a69a"/><rect x="626" y="346.9" width="3" height="1.5" fill="#ef5350"/><rect x="629" y="344.6" width="3" height="3.8" fill="#26a69a"/><rect x="633" y="344.3" width="3" height="1.3" fill="#26a69a"/><rect x="636" y="344.3" width="3" height="1.0" fill="#ef5350"/><rect x="639" y="344.6" width="3" height="15.3" fill="#ef5350"/><rect x="642" y="348.5" width="3" height="12.4" fill="#26a69a"/><rect x="645" y="348.5" width="3" height="1.5" fill="#ef5350"/><rect x="648" y="349.4" width="3" height="2.9" fill="#ef5350"/><rect x="651" y="352.3" width="3" height="2.9" fill="#ef5350"/><rect x="654" y="351.3" width="3" height="3.8" fill="#26a69a"/><rect x="657" y="351.3" width="3" height="11.5" fill="#ef5350"/><rect x="660" y="361.8" width="3" height="6.7" fill="#ef5350"/><rect x="664" y="367.6" width="3" height="6.7" fill="#ef5350"/><rect x="667" y="365.7" width="3" height="7.6" fill="#26a69a"/><rect x="670" y="370.4" width="3" height="1.9" fill="#26a69a"/><rect x="673" y="369.5" width="3" height="7.6" fill="#ef5350"/><rect x="676" y="372.4" width="3" height="4.8" fill="#26a69a"/><rect x="679" y="370.4" width="3" height="3.8" fill="#26a69a"/><rect x="682" y="371.0" width="3" height="1.3" fill="#26a69a"/><rect x="685" y="371.0" width="3" height="1.3" fill="#ef5350"/><rect x="688" y="371.4" width="3" height="1.9" fill="#26a69a"/><rect x="691" y="372.4" width="3" height="10.5" fill="#ef5350"/><rect x="694" y="372.4" width="3" height="11.5" fill="#26a69a"/><rect x="698" y="338.0" width="3" height="35.4" fill="#26a69a"/><rect x="701" y="338.3" width="3" height="13.9" fill="#ef5350"/><rect x="704" y="346.6" width="3" height="5.7" fill="#26a69a"/><rect x="707" y="350.8" width="3" height="3.4" fill="#26a69a"/><rect x="710" y="347.5" width="3" height="4.8" fill="#26a69a"/><rect x="713" y="325.5" width="3" height="22.0" fill="#26a69a"/><rect x="716" y="318.3" width="3" height="7.6" fill="#26a69a"/><rect x="719" y="318.3" width="3" height="7.3" fill="#ef5350"/><rect x="722" y="325.5" width="3" height="8.6" fill="#ef5350"/><rect x="725" y="336.6" width="3" height="3.8" fill="#ef5350"/><rect x="729" y="336.6" width="3" height="3.8" fill="#26a69a"/><rect x="732" y="336.1" width="3" height="6.7" fill="#ef5350"/><rect x="735" y="340.8" width="3" height="1.0" fill="#26a69a"/><rect x="738" y="317.5" width="3" height="23.3" fill="#26a69a"/><rect x="741" y="314.1" width="3" height="3.4" fill="#26a69a"/><rect x="744" y="322.1" width="3" height="7.3" fill="#ef5350"/><rect x="747" y="327.5" width="3" height="1.9" fill="#26a69a"/><rect x="750" y="315.0" width="3" height="12.4" fill="#26a69a"/><rect x="753" y="315.0" width="3" height="8.6" fill="#ef5350"/><rect x="756" y="310.3" width="3" height="13.4" fill="#26a69a"/><rect x="759" y="309.9" width="3" height="1.0" fill="#26a69a"/><rect x="763" y="309.9" width="3" height="1.0" fill="#ef5350"/><rect x="766" y="309.9" width="3" height="4.2" fill="#ef5350"/><rect x="769" y="306.4" width="3" height="7.6" fill="#26a69a"/><rect x="772" y="272.0" width="3" height="34.4" fill="#26a69a"/><rect x="775" y="272.4" width="3" height="1.0" fill="#26a69a"/><rect x="778" y="267.3" width="3" height="5.7" fill="#26a69a"/><rect x="781" y="263.4" width="3" height="2.9" fill="#26a69a"/><rect x="784" y="258.3" width="3" height="5.2" fill="#26a69a"/><rect x="787" y="251.4" width="3" height="7.3" fill="#26a69a"/><rect x="790" y="251.4" width="3" height="3.8" fill="#ef5350"/><rect x="794" y="252.5" width="3" height="2.7" fill="#26a69a"/><rect x="797" y="252.5" width="3" height="2.3" fill="#ef5350"/><rect x="800" y="253.9" width="3" height="7.6" fill="#ef5350"/><rect x="803" y="255.8" width="3" height="5.7" fill="#26a69a"/><rect x="806" y="254.8" width="3" height="1.0" fill="#ef5350"/><rect x="809" y="250.6" width="3" height="5.2" fill="#26a69a"/><rect x="812" y="250.6" width="3" height="9.0" fill="#ef5350"/><rect x="815" y="251.4" width="3" height="8.2" fill="#26a69a"/><rect x="818" y="251.4" width="3" height="1.1" fill="#26a69a"/><rect x="821" y="252.0" width="3" height="1.0" fill="#ef5350"/><rect x="824" y="231.8" width="3" height="19.1" fill="#26a69a"/><rect x="828" y="232.2" width="3" height="3.8" fill="#ef5350"/><rect x="831" y="229.6" width="3" height="6.5" fill="#26a69a"/><rect x="834" y="229.0" width="3" height="1.0" fill="#26a69a"/><rect x="837" y="234.1" width="3" height="1.5" fill="#26a69a"/><rect x="840" y="234.1" width="3" height="4.4" fill="#ef5350"/><rect x="843" y="234.7" width="3" height="3.8" fill="#26a69a"/><rect x="846" y="232.8" width="3" height="1.9" fill="#26a69a"/><rect x="849" y="228.4" width="3" height="4.4" fill="#26a69a"/><rect x="852" y="227.6" width="3" height="1.0" fill="#26a69a"/><rect x="855" y="226.5" width="3" height="2.5" fill="#ef5350"/><rect x="859" y="226.5" width="3" height="3.4" fill="#ef5350"/><rect x="862" y="228.4" width="3" height="5.4" fill="#ef5350"/><rect x="865" y="233.8" width="3" height="2.9" fill="#ef5350"/><rect x="868" y="236.1" width="3" height="3.4" fill="#ef5350"/><rect x="871" y="236.1" width="3" height="3.1" fill="#26a69a"/><rect x="874" y="232.8" width="3" height="1.0" fill="#26a69a"/><rect x="877" y="232.8" width="3" height="5.7" fill="#ef5350"/><rect x="880" y="223.8" width="3" height="14.7" fill="#26a69a"/><rect x="883" y="223.8" width="3" height="4.2" fill="#ef5350"/><rect x="886" y="223.2" width="3" height="4.8" fill="#26a69a"/><rect x="889" y="223.8" width="3" height="2.3" fill="#26a69a"/><rect x="893" y="225.7" width="3" height="1.0" fill="#ef5350"/><rect x="896" y="225.2" width="3" height="1.3" fill="#26a69a"/><rect x="899" y="222.3" width="3" height="2.9" fill="#26a69a"/><rect x="902" y="219.4" width="3" height="3.2" fill="#26a69a"/><rect x="905" y="219.4" width="3" height="1.9" fill="#ef5350"/><rect x="908" y="219.4" width="3" height="1.9" fill="#26a69a"/><rect x="911" y="218.9" width="3" height="1.1" fill="#26a69a"/><rect x="914" y="218.9" width="3" height="3.8" fill="#ef5350"/><rect x="917" y="210.4" width="3" height="12.2" fill="#26a69a"/><rect x="920" y="210.4" width="3" height="1.9" fill="#ef5350"/><rect x="924" y="210.4" width="3" height="1.3" fill="#26a69a"/><rect x="927" y="210.4" width="3" height="1.9" fill="#ef5350"/><rect x="930" y="212.7" width="3" height="8.0" fill="#ef5350"/><rect x="933" y="218.5" width="3" height="2.9" fill="#26a69a"/><rect x="936" y="210.4" width="3" height="8.0" fill="#26a69a"/><rect x="939" y="210.8" width="3" height="6.1" fill="#ef5350"/><rect x="942" y="212.7" width="3" height="10.5" fill="#ef5350"/><rect x="945" y="218.9" width="3" height="5.0" fill="#ef5350"/><rect x="948" y="223.2" width="3" height="1.9" fill="#ef5350"/><rect x="951" y="223.8" width="3" height="2.3" fill="#ef5350"/><rect x="954" y="223.2" width="3" height="12.8" fill="#ef5350"/><rect x="958" y="234.7" width="3" height="1.9" fill="#ef5350"/><rect x="961" y="235.3" width="3" height="1.9" fill="#26a69a"/><rect x="964" y="231.8" width="3" height="2.9" fill="#26a69a"/><rect x="967" y="228.4" width="3" height="3.8" fill="#26a69a"/><rect x="970" y="227.1" width="3" height="2.9" fill="#26a69a"/><rect x="973" y="210.4" width="3" height="23.3" fill="#26a69a"/><rect x="976" y="209.9" width="3" height="1.9" fill="#ef5350"/><rect x="979" y="204.7" width="3" height="7.1" fill="#26a69a"/><rect x="982" y="204.7" width="3" height="6.5" fill="#ef5350"/><rect x="985" y="206.1" width="3" height="5.2" fill="#26a69a"/><rect x="989" y="206.1" width="3" height="1.0" fill="#26a69a"/><rect x="992" y="204.1" width="3" height="1.9" fill="#26a69a"/><rect x="995" y="201.3" width="3" height="2.9" fill="#26a69a"/><rect x="998" y="200.3" width="3" height="3.8" fill="#26a69a"/><rect x="1001" y="193.6" width="3" height="8.6" fill="#26a69a"/><rect x="1004" y="186.9" width="3" height="10.5" fill="#26a69a"/><rect x="1007" y="186.9" width="3" height="4.8" fill="#ef5350"/><rect x="1010" y="181.2" width="3" height="12.0" fill="#26a69a"/><rect x="1013" y="181.2" width="3" height="6.7" fill="#ef5350"/><rect x="1016" y="173.6" width="3" height="14.3" fill="#26a69a"/><rect x="1019" y="171.7" width="3" height="2.5" fill="#26a69a"/><rect x="1023" y="177.4" width="3" height="2.9" fill="#26a69a"/><rect x="1026" y="178.0" width="3" height="1.9" fill="#ef5350"/><rect x="1029" y="178.0" width="3" height="2.7" fill="#ef5350"/><rect x="1032" y="178.0" width="3" height="2.3" fill="#26a69a"/><rect x="1035" y="174.9" width="3" height="3.1" fill="#26a69a"/><rect x="1038" y="171.1" width="3" height="3.8" fill="#26a69a"/><rect x="1041" y="176.1" width="3" height="5.2" fill="#ef5350"/><rect x="1044" y="180.3" width="3" height="6.7" fill="#ef5350"/><rect x="1047" y="174.9" width="3" height="12.0" fill="#26a69a"/><rect x="1050" y="160.8" width="3" height="15.7" fill="#26a69a"/><rect x="1053" y="150.6" width="3" height="10.9" fill="#26a69a"/><rect x="1057" y="150.6" width="3" height="2.9" fill="#ef5350"/><rect x="1060" y="141.7" width="3" height="8.4" fill="#26a69a"/><rect x="1063" y="142.4" width="3" height="5.0" fill="#ef5350"/><rect x="1066" y="139.2" width="3" height="5.7" fill="#26a69a"/><rect x="1069" y="129.0" width="3" height="11.1" fill="#26a69a"/><rect x="1072" y="129.0" width="3" height="3.4" fill="#ef5350"/><rect x="1075" y="132.5" width="3" height="8.0" fill="#ef5350"/><rect x="1078" y="143.0" width="3" height="1.9" fill="#ef5350"/><rect x="1081" y="144.3" width="3" height="1.5" fill="#ef5350"/><rect x="1084" y="137.3" width="3" height="8.6" fill="#26a69a"/><rect x="1088" y="137.3" width="3" height="3.2" fill="#ef5350"/><rect x="1091" y="134.3" width="3" height="6.7" fill="#26a69a"/><rect x="1094" y="132.9" width="3" height="1.4" fill="#26a69a"/><rect x="1097" y="132.4" width="3" height="2.8" fill="#26a69a"/><rect x="1100" y="132.1" width="3" height="1.1" fill="#26a69a"/><rect x="1103" y="113.7" width="3" height="18.4" fill="#26a69a"/><rect x="1106" y="108.0" width="3" height="10.6" fill="#26a69a"/><rect x="1109" y="100.3" width="3" height="7.1" fill="#26a69a"/><rect x="1112" y="96.7" width="3" height="3.5" fill="#26a69a"/><rect x="1115" y="95.3" width="3" height="6.4" fill="#ef5350"/><rect x="1118" y="101.0" width="3" height="1.1" fill="#ef5350"/><rect x="1122" y="101.2" width="3" height="1.1" fill="#26a69a"/><rect x="1125" y="91.0" width="3" height="10.6" fill="#26a69a"/><rect x="1128" y="85.1" width="3" height="6.7" fill="#26a69a"/><rect x="1131" y="85.1" width="3" height="1.4" fill="#ef5350"/><rect x="1134" y="83.2" width="3" height="4.3" fill="#26a69a"/><rect x="1137" y="81.8" width="3" height="2.1" fill="#26a69a"/><rect x="1140" y="81.8" width="3" height="9.5" fill="#ef5350"/><rect x="1143" y="87.5" width="3" height="3.8" fill="#26a69a"/><rect x="1146" y="87.1" width="3" height="1.1" fill="#ef5350"/><rect x="1149" y="85.1" width="3" height="3.8" fill="#26a69a"/><rect x="1153" y="82.2" width="3" height="6.7" fill="#ef5350"/><rect x="1156" y="88.9" width="3" height="5.7" fill="#ef5350"/><rect x="1159" y="86.1" width="3" height="8.5" fill="#26a69a"/><rect x="1162" y="86.1" width="3" height="2.1" fill="#ef5350"/><rect x="1165" y="87.5" width="3" height="13.2" fill="#ef5350"/><rect x="1168" y="69.1" width="3" height="31.6" fill="#26a69a"/><rect x="1171" y="57.3" width="3" height="8.2" fill="#26a69a"/><rect x="1174" y="57.7" width="3" height="1.0" fill="#ef5350"/><rect x="1177" y="58.1" width="3" height="4.3" fill="#ef5350"/><rect x="1180" y="62.0" width="3" height="26.9" fill="#ef5350"/><rect x="1183" y="88.2" width="3" height="10.2" fill="#ef5350"/><rect x="1187" y="89.3" width="3" height="9.1" fill="#26a69a"/><rect x="1190" y="85.6" width="3" height="5.4" fill="#26a69a"/><rect x="1193" y="85.6" width="3" height="4.0" fill="#ef5350"/><rect x="1196" y="68.1" width="3" height="22.3" fill="#26a69a"/><rect x="1199" y="68.1" width="3" height="22.7" fill="#ef5350"/><rect x="1202" y="84.2" width="3" height="7.5" fill="#ef5350"/><rect x="1205" y="91.0" width="3" height="3.5" fill="#ef5350"/><rect x="1208" y="88.9" width="3" height="3.8" fill="#ef5350"/><rect x="1211" y="88.2" width="3" height="5.0" fill="#26a69a"/><rect x="1214" y="88.2" width="3" height="9.2" fill="#ef5350"/><rect x="1218" y="97.4" width="3" height="7.1" fill="#ef5350"/><rect x="1221" y="101.2" width="3" height="4.0" fill="#26a69a"/><rect x="1224" y="99.3" width="3" height="2.4" fill="#26a69a"/><rect x="1227" y="98.1" width="3" height="4.3" fill="#26a69a"/><rect x="1230" y="98.1" width="3" height="3.1" fill="#ef5350"/><rect x="1233" y="97.0" width="3" height="4.0" fill="#26a69a"/><rect x="1236" y="94.2" width="3" height="3.7" fill="#26a69a"/><rect x="1239" y="89.9" width="3" height="4.7" fill="#26a69a"/><rect x="1242" y="86.1" width="3" height="3.8" fill="#26a69a"/><rect x="1245" y="85.6" width="3" height="1.8" fill="#26a69a"/><rect x="1248" y="86.1" width="3" height="3.5" fill="#ef5350"/><rect x="1252" y="88.2" width="3" height="12.1" fill="#ef5350"/><rect x="1255" y="98.1" width="3" height="2.8" fill="#26a69a"/><rect x="1258" y="89.3" width="3" height="9.5" fill="#26a69a"/><rect x="1261" y="92.2" width="3" height="30.3" fill="#ef5350"/><rect x="1264" y="113.7" width="3" height="2.1" fill="#26a69a"/><rect x="1267" y="111.2" width="3" height="3.3" fill="#26a69a"/><rect x="1270" y="112.0" width="3" height="5.2" fill="#ef5350"/><rect x="1273" y="109.7" width="3" height="7.5" fill="#26a69a"/><rect x="1276" y="104.5" width="3" height="5.2" fill="#26a69a"/><rect x="1279" y="93.6" width="3" height="12.8" fill="#26a69a"/><rect x="1283" y="96.4" width="3" height="3.8" fill="#ef5350"/><rect x="1286" y="100.3" width="3" height="7.5" fill="#ef5350"/><rect x="1289" y="107.3" width="3" height="3.8" fill="#ef5350"/></g>
<path d="M-3.0 284.2 L2.5 283.4 L5.5 282.6 L8.5 283.4 L12.5 285.2 L15.5 286.7 L18.5 288.2 L21.5 289.6 L24.5 291.5 L27.5 291.4 L30.5 292.6 L33.5 293.2 L36.5 293.8 L39.5 294.9 L42.5 296.0 L46.5 295.1 L49.5 293.1 L52.5 291.7 L55.5 292.1 L58.5 294.1 L61.5 295.6 L64.5 297.8 L67.5 300.2 L70.5 303.0 L73.5 307.0 L77.5 310.5 L80.5 312.7 L83.5 314.6 L86.5 316.6 L89.5 319.1 L92.5 321.5 L95.5 323.3 L98.5 324.7 L101.5 327.1 L104.5 330.5 L107.5 333.1 L111.5 335.2 L114.5 338.6 L117.5 341.5 L120.5 345.9 L123.5 349.4 L126.5 353.2 L129.5 357.1 L132.5 360.3 L135.5 362.4 L138.5 364.1 L142.5 365.6 L145.5 368.8 L148.5 370.2 L151.5 370.8 L154.5 371.6 L157.5 372.9 L160.5 373.5 L163.5 372.9 L166.5 372.1 L169.5 372.1 L172.5 371.2 L176.5 368.1 L179.5 364.7 L182.5 365.0 L185.5 364.9 L188.5 362.7 L191.5 362.4 L194.5 362.8 L197.5 364.4 L200.5 367.3 L203.5 369.4 L206.5 371.3 L210.5 373.8 L213.5 375.2 L216.5 377.6 L219.5 381.0 L222.5 383.8 L225.5 387.0 L228.5 390.0 L231.5 390.9 L234.5 392.3 L237.5 393.7 L241.5 394.0 L244.5 394.0 L247.5 394.0 L250.5 395.5 L253.5 395.6 L256.5 396.1 L259.5 396.2 L262.5 396.6 L265.5 397.4 L268.5 396.5 L271.5 397.1 L275.5 394.0 L278.5 391.5 L281.5 391.0 L284.5 390.9 L287.5 390.8 L290.5 390.7 L293.5 390.2 L296.5 389.7 L299.5 388.0 L302.5 386.6 L306.5 383.5 L309.5 379.7 L312.5 376.8 L315.5 374.3 L318.5 372.2 L321.5 370.1 L324.5 367.6 L327.5 363.7 L330.5 361.6 L333.5 358.7 L336.5 355.3 L340.5 352.1 L343.5 348.7 L346.5 347.8 L349.5 348.3 L352.5 348.2 L355.5 347.5 L358.5 347.7 L361.5 349.7 L364.5 350.6 L367.5 354.0 L371.5 357.3 L374.5 359.3 L377.5 361.5 L380.5 363.5 L383.5 364.5 L386.5 364.9 L389.5 365.1 L392.5 365.7 L395.5 366.0 L398.5 366.9 L401.5 369.6 L405.5 370.0 L408.5 369.8 L411.5 370.5 L414.5 370.7 L417.5 371.4 L420.5 374.4 L423.5 377.0 L426.5 380.3 L429.5 383.7 L432.5 387.5 L436.5 389.4 L439.5 391.6 L442.5 394.5 L445.5 398.2 L448.5 402.4 L451.5 405.9 L454.5 409.4 L457.5 412.5 L460.5 416.3 L463.5 420.8 L466.5 424.3 L470.5 427.0 L473.5 432.4 L476.5 435.1 L479.5 436.7 L482.5 439.2 L485.5 441.8 L488.5 442.6 L491.5 442.1 L494.5 441.9 L497.5 441.1 L501.5 440.0 L504.5 439.0 L507.5 439.3 L510.5 439.8 L513.5 440.3 L516.5 440.3 L519.5 440.8 L522.5 442.3 L525.5 443.6 L528.5 444.9 L531.5 444.6 L535.5 445.4 L538.5 446.4 L541.5 445.6 L544.5 444.4 L547.5 444.4 L550.5 445.9 L553.5 449.5 L556.5 452.3 L559.5 454.0 L562.5 454.6 L566.5 453.9 L569.5 454.4 L572.5 454.1 L575.5 453.9 L578.5 454.7 L581.5 454.9 L584.5 452.9 L587.5 451.3 L590.5 449.4 L593.5 447.6 L596.5 446.0 L600.5 443.7 L603.5 443.4 L606.5 440.2 L609.5 437.6 L612.5 434.2 L615.5 430.7 L618.5 427.8 L621.5 421.8 L624.5 415.0 L627.5 408.9 L630.5 403.1 L634.5 397.7 L637.5 392.9 L640.5 389.9 L643.5 386.2 L646.5 382.9 L649.5 380.1 L652.5 377.8 L655.5 375.4 L658.5 374.3 L661.5 373.8 L665.5 373.8 L668.5 373.1 L671.5 372.8 L674.5 373.2 L677.5 373.1 L680.5 372.9 L683.5 372.7 L686.5 372.7 L689.5 372.6 L692.5 373.5 L695.5 373.4 L699.5 370.2 L702.5 368.6 L705.5 366.6 L708.5 365.1 L711.5 363.5 L714.5 360.1 L717.5 356.3 L720.5 353.5 L723.5 351.7 L726.5 350.7 L730.5 349.4 L733.5 348.8 L736.5 348.1 L739.5 345.3 L742.5 342.5 L745.5 341.3 L748.5 340.0 L751.5 337.7 L754.5 336.5 L757.5 334.1 L760.5 331.9 L764.5 329.9 L767.5 328.5 L770.5 326.5 L773.5 321.5 L776.5 317.1 L779.5 312.5 L782.5 308.1 L785.5 303.5 L788.5 298.8 L791.5 294.8 L795.5 291.0 L798.5 287.7 L801.5 285.3 L804.5 282.6 L807.5 280.2 L810.5 277.5 L813.5 275.9 L816.5 273.7 L819.5 271.6 L822.5 269.9 L825.5 266.4 L829.5 263.7 L832.5 260.6 L835.5 257.7 L838.5 255.6 L841.5 254.0 L844.5 252.3 L847.5 250.5 L850.5 248.5 L853.5 246.6 L856.5 245.0 L860.5 243.6 L863.5 242.7 L866.5 242.2 L869.5 241.9 L872.5 241.4 L875.5 240.6 L878.5 240.4 L881.5 238.9 L884.5 237.9 L887.5 236.6 L890.5 235.4 L894.5 234.6 L897.5 233.8 L900.5 232.7 L903.5 231.5 L906.5 230.6 L909.5 229.6 L912.5 228.6 L915.5 228.1 L918.5 226.5 L921.5 225.2 L925.5 223.8 L928.5 222.8 L931.5 222.6 L934.5 222.2 L937.5 221.2 L940.5 220.8 L943.5 221.0 L946.5 221.3 L949.5 221.6 L952.5 222.0 L955.5 223.3 L959.5 224.5 L962.5 225.5 L965.5 226.1 L968.5 226.3 L971.5 226.4 L974.5 224.9 L977.5 223.7 L980.5 222.0 L983.5 221.0 L986.5 219.6 L990.5 218.4 L993.5 217.1 L996.5 215.7 L999.5 214.3 L1002.5 212.4 L1005.5 210.1 L1008.5 208.4 L1011.5 205.9 L1014.5 204.3 L1017.5 201.5 L1020.5 198.8 L1024.5 196.8 L1027.5 195.3 L1030.5 194.0 L1033.5 192.5 L1036.5 190.9 L1039.5 189.1 L1042.5 188.4 L1045.5 188.3 L1048.5 187.0 L1051.5 184.7 L1054.5 181.6 L1058.5 179.0 L1061.5 175.6 L1064.5 173.1 L1067.5 170.0 L1070.5 166.3 L1073.5 163.2 L1076.5 161.1 L1079.5 159.6 L1082.5 158.4 L1085.5 156.5 L1089.5 155.0 L1092.5 153.1 L1095.5 151.3 L1098.5 149.6 L1101.5 148.0 L1104.5 144.9 L1107.5 141.5 L1110.5 137.8 L1113.5 134.0 L1116.5 131.1 L1119.5 128.5 L1123.5 126.0 L1126.5 122.8 L1129.5 119.4 L1132.5 116.4 L1135.5 113.4 L1138.5 110.5 L1141.5 108.8 L1144.5 106.8 L1147.5 105.1 L1150.5 103.3 L1154.5 102.0 L1157.5 101.3 L1160.5 99.9 L1163.5 98.9 L1166.5 99.0 L1169.5 96.3 L1172.5 92.8 L1175.5 89.6 L1178.5 87.2 L1181.5 87.3 L1184.5 88.3 L1188.5 88.4 L1191.5 88.2 L1194.5 88.3 L1197.5 86.5 L1200.5 86.9 L1203.5 87.3 L1206.5 88.0 L1209.5 88.4 L1212.5 88.4 L1215.5 89.2 L1219.5 90.6 L1222.5 91.6 L1225.5 92.3 L1228.5 92.8 L1231.5 93.6 L1234.5 93.9 L1237.5 93.9 L1240.5 93.5 L1243.5 92.9 L1246.5 92.2 L1249.5 92.0 L1253.5 92.7 L1256.5 93.2 L1259.5 92.9 L1262.5 95.6 L1265.5 97.2 L1268.5 98.5 L1271.5 100.2 L1274.5 101.1 L1277.5 101.4 L1280.5 100.7 L1284.5 100.6 L1287.5 101.3 L1290.5 102.2" fill="none" stroke="#ab47bc" stroke-width="1.15" stroke-linejoin="round"/>
<path d="M-3.0 276.2 L2.5 276.0 L5.5 275.8 L8.5 277.9 L12.5 281.5 L15.5 284.4 L18.5 287.2 L21.5 289.5 L24.5 292.4 L27.5 292.3 L30.5 294.0 L33.5 294.7 L36.5 295.4 L39.5 296.9 L42.5 298.4 L46.5 296.6 L49.5 293.2 L52.5 291.0 L55.5 291.8 L58.5 294.9 L61.5 297.2 L64.5 300.4 L67.5 303.8 L70.5 307.6 L73.5 313.4 L77.5 317.9 L80.5 320.4 L83.5 322.3 L86.5 324.2 L89.5 327.1 L92.5 329.8 L95.5 331.4 L98.5 332.3 L101.5 335.2 L104.5 339.3 L107.5 342.2 L111.5 344.2 L114.5 348.2 L117.5 351.4 L120.5 356.8 L123.5 360.8 L126.5 365.1 L129.5 369.6 L132.5 372.8 L135.5 374.3 L138.5 375.3 L142.5 376.0 L145.5 379.5 L148.5 380.3 L151.5 379.7 L154.5 379.7 L157.5 380.7 L160.5 380.5 L163.5 378.5 L166.5 376.5 L169.5 375.8 L172.5 373.8 L176.5 368.6 L179.5 363.3 L182.5 363.9 L185.5 363.9 L188.5 360.6 L191.5 360.5 L194.5 361.4 L197.5 364.1 L200.5 368.6 L203.5 371.7 L206.5 374.4 L210.5 377.9 L213.5 379.5 L216.5 382.6 L219.5 387.2 L222.5 390.9 L225.5 394.9 L228.5 398.4 L231.5 398.6 L234.5 399.7 L237.5 400.8 L241.5 400.3 L244.5 399.4 L247.5 398.7 L250.5 400.4 L253.5 399.8 L256.5 399.9 L259.5 399.6 L262.5 399.7 L265.5 400.5 L268.5 398.7 L271.5 399.2 L275.5 394.2 L278.5 390.1 L281.5 389.6 L284.5 389.7 L287.5 389.6 L290.5 389.7 L293.5 389.0 L296.5 388.5 L299.5 385.9 L302.5 384.0 L306.5 379.4 L309.5 374.1 L312.5 370.4 L315.5 367.4 L318.5 365.0 L321.5 362.7 L324.5 359.8 L327.5 354.8 L330.5 352.8 L333.5 349.5 L336.5 345.6 L340.5 341.9 L343.5 337.9 L346.5 338.1 L349.5 340.3 L352.5 341.2 L355.5 341.2 L358.5 342.4 L361.5 346.3 L364.5 348.2 L367.5 353.9 L371.5 359.0 L374.5 362.0 L377.5 365.1 L380.5 367.7 L383.5 368.7 L386.5 368.6 L389.5 368.5 L392.5 368.9 L395.5 368.9 L398.5 369.9 L401.5 373.7 L405.5 373.7 L408.5 373.0 L411.5 373.5 L414.5 373.5 L417.5 374.1 L420.5 378.5 L423.5 382.0 L426.5 386.5 L429.5 390.9 L432.5 395.9 L436.5 397.6 L439.5 399.9 L442.5 403.3 L445.5 407.9 L448.5 413.0 L451.5 417.0 L454.5 421.0 L457.5 424.2 L460.5 428.5 L463.5 433.8 L466.5 437.4 L470.5 439.8 L473.5 446.4 L476.5 448.7 L479.5 449.2 L482.5 451.4 L485.5 453.7 L488.5 453.3 L491.5 451.1 L494.5 449.3 L497.5 447.1 L501.5 444.5 L504.5 442.3 L507.5 442.2 L510.5 442.6 L513.5 443.0 L516.5 442.6 L519.5 443.1 L522.5 445.1 L525.5 446.7 L528.5 448.3 L531.5 447.4 L535.5 448.3 L538.5 449.4 L541.5 447.7 L544.5 445.6 L547.5 445.4 L550.5 447.7 L553.5 453.0 L556.5 456.9 L559.5 458.8 L562.5 459.1 L566.5 457.4 L569.5 457.7 L572.5 456.7 L575.5 456.1 L578.5 457.0 L581.5 457.0 L584.5 453.6 L587.5 450.9 L590.5 447.9 L593.5 445.3 L596.5 443.2 L600.5 440.0 L603.5 440.0 L606.5 435.5 L609.5 432.1 L612.5 427.5 L615.5 423.0 L618.5 419.5 L621.5 411.2 L624.5 402.1 L627.5 394.4 L630.5 387.3 L634.5 381.1 L637.5 376.0 L640.5 373.7 L643.5 370.1 L646.5 367.2 L649.5 365.1 L652.5 363.7 L655.5 361.9 L658.5 362.0 L661.5 363.0 L665.5 364.6 L668.5 364.7 L671.5 365.6 L674.5 367.2 L677.5 367.9 L680.5 368.3 L683.5 368.7 L686.5 369.2 L689.5 369.5 L692.5 371.4 L695.5 371.6 L699.5 366.8 L702.5 364.7 L705.5 362.1 L708.5 360.5 L711.5 358.6 L714.5 353.9 L717.5 348.8 L720.5 345.5 L723.5 343.9 L726.5 343.4 L730.5 342.4 L733.5 342.5 L736.5 342.2 L739.5 338.7 L742.5 335.2 L745.5 334.3 L748.5 333.4 L751.5 330.7 L754.5 329.7 L757.5 326.9 L760.5 324.5 L764.5 322.5 L767.5 321.3 L770.5 319.2 L773.5 312.4 L776.5 306.7 L779.5 301.1 L782.5 295.7 L785.5 290.4 L788.5 284.8 L791.5 280.6 L795.5 276.6 L798.5 273.5 L801.5 271.8 L804.5 269.5 L807.5 267.5 L810.5 265.1 L813.5 264.3 L816.5 262.5 L819.5 260.9 L822.5 259.7 L825.5 255.7 L829.5 252.9 L832.5 249.6 L835.5 246.6 L838.5 244.8 L841.5 243.9 L844.5 242.6 L847.5 241.2 L850.5 239.4 L853.5 237.7 L856.5 236.5 L860.5 235.5 L863.5 235.3 L866.5 235.5 L869.5 236.0 L872.5 236.0 L875.5 235.6 L878.5 236.0 L881.5 234.3 L884.5 233.4 L887.5 231.9 L890.5 230.8 L894.5 230.2 L897.5 229.4 L900.5 228.4 L903.5 227.1 L906.5 226.3 L909.5 225.3 L912.5 224.4 L915.5 224.2 L918.5 222.2 L921.5 220.8 L925.5 219.3 L928.5 218.3 L931.5 218.7 L934.5 218.6 L937.5 217.5 L940.5 217.4 L943.5 218.2 L946.5 219.0 L949.5 219.9 L952.5 220.8 L955.5 223.0 L959.5 224.9 L962.5 226.4 L965.5 227.2 L968.5 227.4 L971.5 227.3 L974.5 224.9 L977.5 223.0 L980.5 220.4 L983.5 219.1 L986.5 217.2 L990.5 215.6 L993.5 214.0 L996.5 212.2 L999.5 210.5 L1002.5 208.1 L1005.5 205.1 L1008.5 203.2 L1011.5 200.0 L1014.5 198.3 L1017.5 194.8 L1020.5 191.5 L1024.5 189.4 L1027.5 188.1 L1030.5 187.0 L1033.5 185.7 L1036.5 184.2 L1039.5 182.3 L1042.5 182.1 L1045.5 182.8 L1048.5 181.7 L1051.5 178.7 L1054.5 174.7 L1058.5 171.7 L1061.5 167.4 L1064.5 164.5 L1067.5 160.9 L1070.5 156.4 L1073.5 152.9 L1076.5 151.2 L1079.5 150.3 L1082.5 149.6 L1085.5 147.9 L1089.5 146.8 L1092.5 145.0 L1095.5 143.3 L1098.5 141.7 L1101.5 140.4 L1104.5 136.6 L1107.5 132.5 L1110.5 127.9 L1113.5 123.4 L1116.5 120.3 L1119.5 117.7 L1123.5 115.4 L1126.5 111.9 L1129.5 108.1 L1132.5 105.0 L1135.5 101.9 L1138.5 99.0 L1141.5 97.9 L1144.5 96.4 L1147.5 95.2 L1150.5 93.8 L1154.5 93.1 L1157.5 93.3 L1160.5 92.3 L1163.5 91.7 L1166.5 93.0 L1169.5 89.6 L1172.5 85.0 L1175.5 81.2 L1178.5 78.5 L1181.5 80.0 L1184.5 82.6 L1188.5 83.6 L1191.5 83.9 L1194.5 84.7 L1197.5 82.3 L1200.5 83.5 L1203.5 84.7 L1206.5 86.1 L1209.5 87.1 L1212.5 87.2 L1215.5 88.7 L1219.5 90.9 L1222.5 92.4 L1225.5 93.4 L1228.5 94.1 L1231.5 95.1 L1234.5 95.4 L1237.5 95.2 L1240.5 94.4 L1243.5 93.2 L1246.5 92.2 L1249.5 91.8 L1253.5 93.0 L1256.5 93.7 L1259.5 93.1 L1262.5 97.3 L1265.5 99.6 L1268.5 101.3 L1271.5 103.6 L1274.5 104.5 L1277.5 104.5 L1280.5 102.9 L1284.5 102.5 L1287.5 103.3 L1290.5 104.4" fill="none" stroke="#ec407a" stroke-width="1.15" stroke-linejoin="round"/>
<line x1="1147.3" y1="37.9" x2="1342.1" y2="116.3" stroke="#2196f3" stroke-width="1.15"/>
<path d="M0.0 678.2 L2.7 673.7 L5.4 676.9 L8.6 686.3 L11.6 691.6 L15.2 697.4 L18.4 699.7 L21.5 697.4 L24.7 701.5 L27.2 694.8 L30.4 698.4 L33.1 703.3 L36.3 699.7 L39.4 702.4 L42.6 704.2 L45.7 684.5 L49.2 667.4 L52.3 671.9 L55.5 682.7 L58.2 688.9 L61.4 692.5 L64.5 687.7 L67.7 694.8 L70.7 699.7 L73.8 705.1 L76.6 706.8 L80.6 690.7 L83.8 698.4 L86.8 697.4 L89.5 698.4 L92.8 701.5 L95.8 704.2 L98.5 702.4 L101.2 713.1 L104.2 720.3 L107.4 724.2 L110.7 725.6 L113.7 727.8 L117.3 730.1 L120.3 734.2 L123.5 737.3 L126.8 739.6 L129.8 740.9 L132.5 738.5 L135.2 731.9 L138.4 715.8 L141.5 718.5 L145.0 723.9 L148.3 728.9 L151.3 725.3 L154.3 728.3 L157.6 733.2 L160.3 730.1 L163.3 711.0 L166.2 712.8 L169.2 714.9 L172.3 710.4 L174.6 691.6 L176.9 679.1 L179.4 675.5 L182.3 688.0 L185.3 691.6 L188.4 676.4 L191.2 683.6 L194.3 685.4 L197.0 691.3 L200.5 699.1 L203.8 702.4 L206.8 700.9 L210.4 705.6 L213.4 696.6 L216.3 702.7 L219.3 706.8 L222.0 707.7 L225.3 711.0 L228.3 714.0 L231.3 702.7 L234.6 695.6 L237.8 701.5 L241.7 703.3 L244.4 702.7 L247.5 700.6 L250.3 705.6 L253.4 710.4 L256.4 714.0 L259.6 715.8 L262.9 717.0 L265.9 714.9 L268.2 709.5 L271.3 717.6 L274.9 709.5 L278.4 706.8 L281.1 712.2 L284.3 714.9 L287.4 719.4 L290.4 723.5 L293.7 727.4 L296.3 726.0 L299.4 714.5 L302.6 713.5 L305.3 696.6 L308.9 691.6 L312.5 682.7 L315.5 684.5 L318.7 687.1 L321.4 688.9 L324.4 683.6 L325.0 682.7 L327.7 673.4 L330.4 680.0 L333.6 683.6 L336.6 674.1 L340.2 673.7 L343.4 671.6 L346.5 682.7 L349.7 691.6 L352.8 696.1 L355.4 689.5 L358.1 693.1 L361.3 702.7 L364.4 709.5 L367.6 717.0 L370.7 718.1 L374.8 709.9 L377.3 711.7 L380.5 719.9 L383.2 723.0 L386.4 714.4 L389.5 715.8 L392.7 715.3 L395.7 717.6 L398.8 722.1 L401.6 726.5 L405.2 713.5 L408.3 714.9 L411.5 718.1 L414.5 711.0 L417.8 716.7 L420.8 722.1 L424.4 726.5 L428.5 729.6 L432.4 731.6 L435.7 723.9 L439.6 719.9 L442.3 723.5 L445.3 727.1 L448.2 728.9 L451.2 723.1 L454.3 727.1 L457.5 730.1 L460.7 733.2 L463.8 735.0 L466.8 736.4 L469.7 736.4 L473.3 740.3 L476.3 743.5 L479.3 725.1 L482.2 726.9 L485.3 728.7 L488.3 722.1 L491.5 709.0 L494.2 708.6 L497.4 702.9 L501.4 705.6 L504.6 707.7 L507.6 711.0 L510.9 714.9 L513.9 709.0 L516.6 708.3 L519.8 710.4 L522.5 713.5 L525.5 716.7 L528.2 720.6 L531.3 706.8 L534.5 711.3 L538.1 715.4 L540.8 714.0 L543.8 709.9 L547.0 716.7 L549.7 722.1 L552.8 726.9 L556.0 728.7 L559.2 714.0 L562.2 705.6 L565.5 691.6 L568.5 696.1 L572.1 700.6 L575.3 697.9 L578.4 700.9 L581.4 704.2 L584.3 677.7 L587.3 680.0 L590.5 684.8 L593.6 686.3 L596.3 688.4 L599.5 678.7 L603.4 688.0 L606.5 681.8 L609.7 686.6 L612.4 680.9 L615.4 671.9 L618.3 674.1 L621.3 645.1 L624.4 636.1 L627.6 642.9 L631.2 646.0 L634.4 646.9 L637.5 646.9 L640.5 655.5 L643.4 659.4 L646.4 664.4 L649.4 668.3 L652.7 670.4 L655.5 672.2 L658.9 682.6 L661.5 687.1 L664.4 692.2 L667.8 695.3 L671.5 698.8 L674.4 702.0 L677.1 696.6 L680.4 700.4 L683.3 692.0 L686.6 693.7 L689.5 695.5 L692.2 700.4 L695.5 706.6 L698.4 659.3 L702.2 673.1 L705.5 676.7 L708.8 680.4 L711.5 680.4 L714.4 658.7 L717.7 654.9 L720.6 652.7 L723.7 658.2 L726.6 663.1 L729.9 662.7 L733.7 659.3 L736.6 668.2 L739.4 663.8 L742.1 660.5 L745.4 667.6 L748.3 671.1 L751.6 654.2 L755.0 661.6 L758.1 661.1 L761.0 663.8 L764.3 666.7 L767.6 669.3 L770.5 659.3 L773.6 634.9 L776.5 626.1 L779.8 632.7 L782.7 635.6 L785.4 630.5 L788.7 624.5 L792.0 634.9 L795.4 640.0 L798.2 644.5 L800.9 650.5 L804.7 657.8 L807.6 649.8 L810.2 658.2 L813.1 665.6 L816.4 672.0 L819.8 669.3 L822.4 670.9 L825.3 651.6 L828.6 655.6 L832.0 654.2 L835.3 657.1 L838.6 661.6 L841.3 664.9 L844.6 662.2 L847.5 668.7 L850.8 663.1 L853.7 657.1 L856.4 659.3 L859.3 663.3 L861.9 670.4 L865.3 677.1 L868.6 682.6 L872.6 686.4 L875.3 679.3 L878.1 684.2 L881.5 671.6 L884.6 673.3 L887.9 679.8 L890.8 684.9 L893.4 688.9 L897.4 683.3 L900.3 684.9 L903.7 680.4 L906.8 682.6 L909.7 684.9 L912.5 683.3 L915.6 686.6 L918.5 675.3 L921.4 681.1 L924.5 676.4 L927.4 677.5 L930.7 684.9 L934.1 689.3 L937.8 663.3 L940.7 670.4 L944.0 682.6 L948.5 688.6 L951.8 692.2 L955.1 705.9 L958.5 710.4 L962.5 695.3 L965.6 698.2 L968.5 692.2 L971.1 691.1 L974.5 654.5 L977.7 658.7 L980.3 668.5 L983.5 675.1 L986.1 680.4 L989.3 675.9 L992.5 687.0 L996.2 678.6 L999.4 682.5 L1002.6 673.3 L1005.7 660.5 L1008.9 664.5 L1011.6 653.4 L1014.8 664.0 L1017.4 652.0 L1020.1 654.2 L1023.5 661.3 L1026.7 664.8 L1030.1 674.6 L1033.3 682.0 L1036.5 684.4 L1039.4 685.7 L1042.6 690.5 L1045.5 696.3 L1048.7 685.2 L1051.9 679.9 L1054.5 664.0 L1057.7 665.8 L1061.1 658.1 L1064.3 661.3 L1067.2 664.8 L1070.4 653.4 L1073.6 647.3 L1077.0 654.7 L1080.0 659.5 L1082.9 663.2 L1085.8 656.0 L1089.0 664.0 L1091.6 670.1 L1095.1 665.8 L1098.3 668.7 L1101.4 668.0 L1104.9 644.6 L1107.5 648.1 L1110.7 640.7 L1114.2 642.0 L1116.8 642.2 L1120.0 646.0 L1123.4 647.5 L1126.6 647.3 L1130.1 643.6 L1133.2 644.6 L1136.2 644.6 L1138.8 647.5 L1141.5 645.4 L1144.6 657.3 L1147.3 664.0 L1150.7 664.8 L1153.9 666.6 L1156.6 670.6 L1160.5 661.3 L1163.2 668.0 L1166.4 679.1 L1169.8 661.3 L1172.5 646.0 L1175.4 649.4 L1178.6 666.6 L1181.7 685.2 L1184.7 694.5 L1187.6 697.6 L1191.0 694.5 L1194.5 693.7 L1197.7 669.3 L1200.3 679.9 L1203.5 686.0 L1206.4 689.2 L1209.6 690.5 L1212.8 693.1 L1215.7 698.4 L1218.9 703.2 L1221.8 706.9 L1225.0 699.8 L1228.1 701.6 L1231.3 704.3 L1234.8 700.3 L1237.9 701.1 L1240.6 699.8 L1243.2 691.8 L1246.7 693.9 L1249.3 686.5 L1252.5 697.1 L1256.0 702.4 L1259.4 703.7 L1262.6 714.3 L1265.8 718.3 L1268.7 713.0 L1271.9 707.7 L1275.0 713.0 L1278.0 712.5 L1280.6 702.4 L1283.8 706.4 L1287.0 710.4 L1290.4 713.5" fill="none" stroke="#42a5f5" stroke-width="1.15" stroke-linejoin="round"/>
<path d="M0.0 697.9 L2.7 700.6 L5.0 701.5 L8.1 680.9 L11.6 666.9 L15.2 665.1 L18.8 668.3 L21.5 671.6 L24.7 663.0 L27.8 675.5 L30.4 684.8 L33.1 686.6 L36.3 688.9 L39.4 680.9 L42.1 679.1 L44.8 686.6 L48.3 696.1 L52.3 700.9 L55.5 680.9 L58.2 666.9 L61.4 663.0 L64.1 671.6 L67.1 653.1 L70.4 662.1 L73.4 648.6 L76.6 645.1 L80.6 652.6 L83.8 652.2 L86.8 662.1 L89.5 671.0 L92.2 671.9 L95.8 676.4 L98.5 678.7 L101.7 663.0 L104.4 657.6 L107.4 667.4 L111.0 670.1 L114.2 663.0 L117.3 664.8 L120.3 644.2 L123.5 651.3 L126.8 653.1 L129.8 656.7 L133.4 662.1 L136.1 668.3 L138.8 676.4 L141.5 681.2 L145.0 665.7 L148.3 675.5 L151.3 678.7 L154.9 669.2 L157.6 667.4 L160.3 673.7 L163.3 683.6 L166.2 687.1 L169.2 685.9 L172.8 690.7 L176.4 698.8 L179.4 702.4 L182.3 680.0 L185.3 682.7 L188.0 688.9 L191.2 681.8 L194.8 690.7 L197.0 688.0 L200.5 673.4 L203.8 674.6 L206.8 678.2 L209.9 675.5 L213.1 682.7 L216.3 678.7 L219.3 678.2 L222.0 678.2 L225.3 675.1 L228.3 676.9 L231.3 688.9 L234.2 694.3 L237.2 685.9 L240.8 688.9 L244.4 694.3 L247.1 696.6 L250.3 680.9 L253.4 687.1 L256.4 690.2 L259.6 692.0 L262.3 692.5 L265.9 697.0 L268.6 701.5 L271.8 698.4 L274.9 709.5 L278.4 712.2 L281.1 684.5 L284.3 686.6 L287.4 675.5 L290.4 681.8 L293.7 685.4 L297.2 688.0 L299.9 691.6 L302.6 693.8 L305.3 701.5 L308.9 705.1 L312.5 711.3 L315.1 713.1 L318.7 711.3 L321.4 711.7 L325.0 717.6 L325.0 717.6 L328.6 723.0 L333.1 727.1 L337.5 729.2 L341.1 730.7 L343.4 732.8 L346.5 720.3 L349.7 706.8 L352.2 703.8 L355.4 705.9 L358.1 702.4 L361.3 682.7 L364.4 688.4 L367.6 671.0 L370.7 673.4 L374.8 678.2 L377.8 675.5 L380.5 671.6 L383.7 677.3 L386.8 683.6 L392.7 689.5 L398.4 681.8 L401.6 668.3 L405.2 682.7 L408.3 685.9 L411.3 681.2 L414.5 684.8 L417.8 681.8 L420.8 670.7 L424.4 671.6 L429.7 675.5 L432.4 666.6 L435.7 676.4 L439.6 682.3 L442.3 678.2 L445.3 670.1 L448.5 666.2 L451.8 670.1 L454.3 662.6 L457.5 668.3 L460.7 666.6 L463.8 669.2 L466.8 673.7 L469.7 675.9 L473.3 657.6 L476.3 667.4 L479.3 674.6 L482.6 678.7 L485.6 677.7 L488.3 683.6 L491.5 691.6 L495.1 697.0 L498.3 701.5 L501.4 703.8 L504.6 705.1 L507.6 698.8 L510.9 689.8 L513.9 698.8 L516.6 705.6 L519.8 707.7 L522.5 693.1 L525.5 692.5 L528.2 689.8 L531.3 698.8 L534.5 705.6 L537.7 709.5 L540.8 713.1 L543.8 715.8 L547.0 692.5 L549.7 694.3 L552.8 685.4 L556.0 682.3 L559.2 685.4 L562.2 689.5 L565.8 696.1 L568.9 699.7 L572.1 704.2 L575.3 706.8 L578.4 696.1 L581.4 690.7 L584.6 698.8 L587.3 704.2 L590.5 708.3 L593.6 709.9 L596.8 707.4 L599.9 709.5 L603.4 698.4 L606.5 707.7 L609.7 712.2 L612.4 714.9 L615.4 717.6 L618.7 715.8 L621.3 722.4 L624.4 726.5 L627.6 730.1 L631.2 731.0 L634.4 732.4 L637.5 732.8 L640.5 713.5 L643.4 718.8 L646.4 721.7 L649.4 723.5 L653.3 721.5 L655.5 722.6 L658.9 713.3 L661.5 709.7 L664.4 701.5 L667.8 703.7 L671.5 706.6 L674.4 699.3 L677.1 704.8 L680.4 702.2 L683.3 706.6 L686.6 708.6 L689.5 707.1 L692.2 694.9 L695.1 697.1 L697.7 709.3 L700.6 714.8 L703.3 718.2 L706.6 719.7 L708.8 718.8 L711.7 720.8 L714.4 727.0 L717.7 730.4 L720.6 733.2 L723.7 723.7 L726.6 716.4 L729.9 718.2 L733.7 723.0 L736.6 721.5 L739.4 729.3 L742.1 729.9 L745.4 715.9 L748.3 708.6 L751.6 714.2 L755.0 718.2 L758.1 722.1 L761.0 722.6 L764.3 720.4 L767.6 719.0 L770.5 723.7 L773.6 731.0 L776.5 733.7 L779.8 735.2 L783.8 737.0 L787.6 740.3 L790.9 743.0 L794.3 744.1 L797.1 744.8 L800.5 738.1 L803.1 734.4 L805.3 733.7 L807.6 735.5 L810.2 731.9 L813.1 730.4 L816.4 731.5 L819.8 733.0 L822.4 733.7 L825.3 738.8 L828.6 740.3 L832.0 741.9 L835.3 742.6 L838.6 735.9 L841.3 730.4 L844.2 731.9 L847.5 728.8 L850.8 730.4 L853.7 732.1 L856.4 733.0 L859.3 730.8 L861.9 715.9 L864.2 710.4 L866.8 707.5 L869.7 710.4 L872.6 712.6 L875.3 714.8 L878.1 708.8 L881.5 715.9 L884.6 720.8 L887.9 724.4 L891.9 727.0 L896.3 729.7 L900.8 732.6 L904.1 734.8 L908.5 736.6 L912.3 737.7 L915.2 730.4 L918.5 735.2 L921.9 737.7 L927.4 739.7 L930.1 722.6 L931.8 712.6 L934.7 710.4 L937.4 715.9 L940.3 720.4 L943.4 704.8 L945.8 707.1 L948.5 704.8 L951.8 704.2 L953.6 680.4 L955.6 665.3 L958.5 673.8 L961.4 680.4 L964.0 684.2 L967.4 689.3 L971.1 694.2 L974.0 709.3 L977.7 715.7 L980.3 714.9 L983.5 717.8 L986.1 719.6 L989.3 722.3 L992.5 701.6 L996.2 705.9 L999.4 709.8 L1002.6 713.8 L1005.7 719.6 L1008.9 722.8 L1012.1 727.1 L1014.8 726.8 L1017.4 731.6 L1020.1 732.9 L1023.5 719.6 L1026.7 721.0 L1030.1 710.4 L1033.3 714.3 L1036.5 718.3 L1039.4 720.2 L1042.6 713.5 L1045.5 705.6 L1048.7 714.3 L1051.9 719.6 L1054.5 723.1 L1057.7 724.9 L1061.1 727.6 L1065.1 730.2 L1069.1 734.2 L1073.6 738.2 L1077.0 729.7 L1080.0 721.0 L1082.9 721.0 L1086.3 724.9 L1089.5 727.6 L1093.0 729.2 L1096.9 730.5 L1101.4 731.6 L1104.9 738.2 L1108.1 743.0 L1111.5 744.8 L1115.5 746.7 L1119.5 747.5 L1123.4 749.3 L1127.4 750.9 L1131.4 752.2 L1135.4 752.8 L1138.8 753.6 L1141.5 754.9 L1144.6 751.4 L1147.8 750.9 L1150.7 752.0 L1153.1 752.8 L1156.6 740.8 L1159.7 743.5 L1163.2 745.6 L1166.4 720.4 L1169.8 729.7 L1172.5 732.4 L1175.4 733.7 L1178.6 709.0 L1181.7 690.5 L1184.7 677.2 L1187.6 681.2 L1191.0 683.9 L1194.5 686.0 L1197.1 698.4 L1200.3 703.7 L1203.5 706.4 L1206.4 700.6 L1209.6 703.2 L1212.8 705.1 L1215.7 697.1 L1218.9 692.6 L1221.8 689.2 L1225.0 691.3 L1228.1 693.1 L1231.3 694.5 L1234.8 699.8 L1237.9 703.7 L1241.4 706.4 L1244.8 709.0 L1249.3 713.5 L1252.5 680.4 L1256.0 687.0 L1259.4 692.3 L1262.6 661.9 L1265.8 666.6 L1268.7 671.9 L1271.9 679.9 L1275.0 685.7 L1278.5 692.3 L1281.7 698.4 L1283.8 700.6 L1287.0 690.5 L1290.4 686.0" fill="none" stroke="#ff8126" stroke-width="1.15" stroke-linejoin="round"/>
<path d="M0.0 699.7 L5.0 702.0 L8.6 705.9 L13.4 707.0 L17.9 707.4 L21.5 707.7 L24.7 707.2 L28.6 709.9 L33.1 713.1 L37.2 715.3 L42.1 715.6 L46.6 717.6 L51.9 716.7 L55.9 720.3 L61.8 720.3 L64.5 721.5 L68.0 719.9 L71.6 717.6 L76.6 711.0 L80.6 710.1 L85.9 707.9 L93.1 708.3 L99.0 709.0 L103.0 702.4 L107.4 697.0 L111.9 692.5 L116.4 686.3 L120.9 678.2 L125.3 667.4 L129.8 656.7 L132.5 650.4 L135.5 647.4 L141.5 651.9 L148.6 649.5 L152.2 649.5 L157.6 645.6 L160.3 644.7 L164.7 652.2 L171.9 661.2 L179.1 668.7 L184.4 679.1 L189.8 688.9 L194.3 695.2 L197.9 699.1 L204.1 701.5 L210.4 702.7 L214.9 705.6 L221.1 706.3 L228.8 703.3 L234.6 710.4 L241.7 714.0 L247.5 719.4 L254.3 718.5 L263.2 716.7 L268.6 718.1 L271.8 718.5 L278.4 723.5 L284.7 720.3 L291.0 711.7 L296.3 705.6 L300.8 706.3 L305.3 710.4 L309.8 711.7 L315.1 710.4 L322.3 710.4 L325.0 708.1 L329.5 702.7 L334.0 697.0 L339.3 689.5 L343.4 684.1 L346.5 684.1 L351.0 689.8 L355.4 695.2 L359.9 699.7 L364.4 701.5 L370.7 697.0 L376.9 696.6 L383.2 691.6 L389.5 692.2 L394.8 693.1 L398.4 691.1 L401.6 687.1 L407.4 688.0 L412.7 688.0 L417.8 689.5 L423.5 683.6 L428.9 677.3 L434.2 671.0 L439.6 671.0 L443.2 669.2 L448.5 663.9 L452.1 662.1 L457.5 657.6 L462.9 651.3 L469.7 644.2 L476.3 634.3 L479.3 635.6 L482.6 636.5 L485.6 637.0 L488.3 639.7 L491.5 646.9 L495.1 655.8 L498.3 663.9 L501.4 670.1 L504.6 675.1 L507.6 679.1 L510.9 681.4 L513.9 686.3 L516.6 690.7 L519.8 696.1 L522.5 697.4 L528.2 697.5 L531.3 701.5 L534.5 705.4 L537.7 708.3 L540.8 711.7 L543.8 714.4 L547.0 714.0 L550.3 711.7 L554.2 705.9 L557.4 703.8 L560.5 704.2 L564.0 707.7 L568.5 712.2 L573.0 716.7 L577.5 720.3 L581.4 722.1 L588.2 721.7 L593.6 720.6 L597.2 720.8 L599.9 719.4 L603.4 721.2 L607.9 720.3 L612.4 717.6 L618.7 710.4 L623.1 698.8 L627.6 688.0 L632.1 677.3 L637.5 669.2 L643.7 666.2 L649.1 663.5 L655.5 662.0 L660.0 667.1 L664.4 674.9 L668.9 680.9 L674.4 689.3 L680.4 698.6 L686.6 703.7 L692.2 708.6 L695.5 711.5 L699.9 708.2 L705.5 703.1 L711.5 698.8 L716.6 689.3 L721.0 680.4 L724.3 676.4 L729.9 673.3 L736.6 669.3 L742.8 662.0 L748.8 664.2 L755.4 662.2 L762.1 658.9 L767.6 658.2 L770.9 656.5 L776.5 646.7 L782.7 635.6 L788.7 624.5 L794.3 612.7 L798.2 607.2 L803.1 605.4 L808.7 603.6 L814.2 605.4 L819.8 606.5 L822.4 606.7 L828.6 601.6 L835.3 596.5 L838.6 595.7 L844.2 597.9 L850.8 601.2 L856.4 601.2 L859.7 602.8 L864.2 611.2 L870.8 624.5 L878.6 637.2 L881.9 639.8 L887.5 642.7 L893.4 644.9 L899.7 644.5 L906.3 640.9 L912.5 637.8 L915.6 638.7 L920.7 636.0 L927.4 630.5 L930.7 634.3 L934.7 641.6 L940.7 643.8 L946.3 654.2 L951.8 664.4 L955.6 667.1 L959.6 670.0 L965.1 678.9 L971.1 690.0 L976.2 686.0 L979.0 685.2 L984.3 683.3 L989.6 681.7 L994.9 686.0 L1000.2 688.4 L1003.6 686.5 L1008.1 681.2 L1013.4 674.0 L1018.7 665.8 L1022.7 661.3 L1026.7 660.0 L1030.7 662.1 L1035.4 664.8 L1039.9 667.2 L1045.2 675.1 L1049.2 677.8 L1053.2 676.7 L1058.5 672.5 L1065.1 665.3 L1070.4 655.2 L1073.6 648.1 L1077.0 645.4 L1081.0 644.9 L1087.7 642.2 L1094.3 639.6 L1101.4 636.7 L1104.9 631.6 L1110.2 621.6 L1116.8 608.8 L1123.4 597.7 L1130.1 586.3 L1136.7 575.2 L1142.0 568.0 L1148.6 561.9 L1153.4 558.5 L1156.6 560.1 L1163.2 560.6 L1166.4 567.2 L1169.8 571.7 L1175.4 574.4 L1178.6 583.1 L1181.7 595.6 L1185.7 608.8 L1189.7 621.0 L1195.0 633.0 L1203.0 648.1 L1210.9 665.3 L1217.5 677.8 L1224.2 685.2 L1230.8 693.9 L1236.1 702.9 L1241.4 708.2 L1249.3 710.9 L1256.0 714.3 L1259.9 715.7 L1262.6 711.2 L1265.8 707.7 L1268.7 705.9 L1275.0 705.6 L1278.5 707.7 L1281.7 711.7 L1285.1 713.8 L1290.4 713.0" fill="none" stroke="#ee2e6b" stroke-width="1.15" stroke-linejoin="round"/>
<rect x="0" y="533" width="1843" height="1" fill="#dedfe1"/>
<rect x="0" y="774.9" width="1843" height="1" fill="#dedfe1"/>
<rect x="1763" y="0" width="1" height="811" fill="#d9dade"/>
<rect x="21.0" y="776" width="1" height="4" fill="#d4d5d9"/><rect x="187.9" y="776" width="1" height="4" fill="#d4d5d9"/><rect x="299.1" y="776" width="1" height="4" fill="#d4d5d9"/><rect x="410.6" y="776" width="1" height="4" fill="#d4d5d9"/><rect x="595.6" y="776" width="1" height="4" fill="#d4d5d9"/><rect x="707.6" y="776" width="1" height="4" fill="#d4d5d9"/><rect x="818.8" y="776" width="1" height="4" fill="#d4d5d9"/><rect x="1004.7" y="776" width="1" height="4" fill="#d4d5d9"/><rect x="1116.0" y="776" width="1" height="4" fill="#d4d5d9"/><rect x="1227.6" y="776" width="1" height="4" fill="#d4d5d9"/><rect x="1360.8" y="776" width="1" height="4" fill="#d4d5d9"/><rect x="1471.9" y="776" width="1" height="4" fill="#d4d5d9"/><rect x="1602.0" y="776" width="1" height="4" fill="#d4d5d9"/><rect x="1713.1" y="776" width="1" height="4" fill="#d4d5d9"/><rect x="1764" y="46.9" width="4.5" height="1" fill="#d4d5d9"/><rect x="1764" y="119.1" width="4.5" height="1" fill="#d4d5d9"/><rect x="1764" y="191.3" width="4.5" height="1" fill="#d4d5d9"/><rect x="1764" y="263.6" width="4.5" height="1" fill="#d4d5d9"/><rect x="1764" y="335.8" width="4.5" height="1" fill="#d4d5d9"/><rect x="1764" y="408.0" width="4.5" height="1" fill="#d4d5d9"/><rect x="1764" y="480.3" width="4.5" height="1" fill="#d4d5d9"/><rect x="1764" y="571.0" width="4.5" height="1" fill="#d4d5d9"/><rect x="1764" y="636.7" width="4.5" height="1" fill="#d4d5d9"/><rect x="1764" y="702.4" width="4.5" height="1" fill="#d4d5d9"/><rect x="1764" y="768.0" width="4.5" height="1" fill="#d4d5d9"/></svg><div class="t" style="left:1775px;top:38.1px;font-size:16px;line-height:19.2px;color:#131722;font-weight:400;letter-spacing:0.45px;">4600.00</div><div class="t" style="left:1775px;top:110.3px;font-size:16px;line-height:19.2px;color:#131722;font-weight:400;letter-spacing:0.45px;">4500.00</div><div class="t" style="left:1775px;top:182.6px;font-size:16px;line-height:19.2px;color:#131722;font-weight:400;letter-spacing:0.45px;">4400.00</div><div class="t" style="left:1775px;top:254.9px;font-size:16px;line-height:19.2px;color:#131722;font-weight:400;letter-spacing:0.45px;">4300.00</div><div class="t" style="left:1775px;top:327.1px;font-size:16px;line-height:19.2px;color:#131722;font-weight:400;letter-spacing:0.45px;">4200.00</div><div class="t" style="left:1775px;top:399.2px;font-size:16px;line-height:19.2px;color:#131722;font-weight:400;letter-spacing:0.45px;">4100.00</div><div class="t" style="left:1775px;top:471.6px;font-size:16px;line-height:19.2px;color:#131722;font-weight:400;letter-spacing:0.45px;">4000.00</div><div class="t" style="left:1775px;top:562.2px;font-size:16px;line-height:19.2px;color:#131722;font-weight:400;letter-spacing:0.45px;">60.0000</div><div class="t" style="left:1775px;top:628.0px;font-size:16px;line-height:19.2px;color:#131722;font-weight:400;letter-spacing:0.45px;">40.0000</div><div class="t" style="left:1775px;top:693.6px;font-size:16px;line-height:19.2px;color:#131722;font-weight:400;letter-spacing:0.45px;">20.0000</div><div class="t" style="left:1775px;top:759.2px;font-size:16px;line-height:19.2px;color:#131722;font-weight:400;letter-spacing:0.45px;">0.0000</div><div class="lab" style="left:1763px;top:156.0px;width:80px;background:#4caf50;border-radius:0 2px 2px 0;padding-left:13px;letter-spacing:0.45px"><i style="position:absolute;left:0;top:12px;width:5px;height:1px;background:#b7dfb9"></i>4431.97</div><div class="lab" style="left:1763px;top:198.0px;width:80px;background:#4caf50;border-radius:0 2px 2px 0;padding-left:13px;letter-spacing:0.45px"><i style="position:absolute;left:0;top:12px;width:5px;height:1px;background:#b7dfb9"></i>4373.63</div><div class="lab" style="left:1763px;top:231.0px;width:80px;background:#4caf50;border-radius:0 2px 2px 0;padding-left:13px;letter-spacing:0.45px"><i style="position:absolute;left:0;top:12px;width:5px;height:1px;background:#b7dfb9"></i>4328.56</div><div class="lab" style="left:1763px;top:298.0px;width:80px;background:#4caf50;border-radius:0 2px 2px 0;padding-left:13px;letter-spacing:0.45px"><i style="position:absolute;left:0;top:12px;width:5px;height:1px;background:#b7dfb9"></i>4236.12</div><div class="lab" style="left:1763px;top:99.0px;width:80px;background:#ef5350;border-radius:0 2px 2px 0;padding-left:13px;letter-spacing:0.45px"><i style="position:absolute;left:0;top:12px;width:5px;height:1px;background:#f9bab9"></i>4511.26</div><div class="lab" style="left:1695px;top:99.0px;width:67px;background:#ef5350;border-radius:2px 0 0 2px;padding-left:6px;letter-spacing:0.1px">Euro50</div><div class="t c" style="left:-28.2px;width:100px;top:784.9px;font-size:16px;line-height:19.2px;font-weight:400;letter-spacing:0.5px">19</div><div class="t c" style="left:138.7px;width:100px;top:784.9px;font-size:16px;line-height:19.2px;font-weight:400;letter-spacing:0.6px">Oct</div><div class="t c" style="left:249.9px;width:100px;top:784.9px;font-size:16px;line-height:19.2px;font-weight:400;letter-spacing:0.5px">10</div><div class="t c" style="left:361.4px;width:100px;top:784.9px;font-size:16px;line-height:19.2px;font-weight:400;letter-spacing:0.5px">18</div><div class="t c" style="left:546.4px;width:100px;top:784.9px;font-size:16px;line-height:19.2px;font-weight:400;letter-spacing:0.6px">Nov</div><div class="t c" style="left:658.4px;width:100px;top:784.9px;font-size:16px;line-height:19.2px;font-weight:400;letter-spacing:0.5px">9</div><div class="t c" style="left:769.5px;width:100px;top:784.9px;font-size:16px;line-height:19.2px;font-weight:400;letter-spacing:0.5px">17</div><div class="t c" style="left:955.5px;width:100px;top:784.9px;font-size:16px;line-height:19.2px;font-weight:400;letter-spacing:0.6px">Déc</div><div class="t c" style="left:1066.8px;width:100px;top:784.9px;font-size:16px;line-height:19.2px;font-weight:400;letter-spacing:0.5px">11</div><div class="t c" style="left:1178.3px;width:100px;top:784.9px;font-size:16px;line-height:19.2px;font-weight:400;letter-spacing:0.5px">19</div><div class="t c" style="left:1311.8px;width:100px;top:784.9px;font-size:16px;line-height:19.2px;font-weight:700;letter-spacing:1.0px">2024</div><div class="t c" style="left:1422.7px;width:100px;top:784.9px;font-size:16px;line-height:19.2px;font-weight:400;letter-spacing:0.5px">17</div><div class="t c" style="left:1552.8px;width:100px;top:784.9px;font-size:16px;line-height:19.2px;font-weight:400;letter-spacing:0.6px">Févr</div><div class="t c" style="left:1663.8px;width:100px;top:784.9px;font-size:16px;line-height:19.2px;font-weight:400;letter-spacing:0.5px">15</div><div class="t" style="left:1204px;top:26.7px;font-size:11.8px;line-height:14.2px;color:#f44336;font-weight:400;">1.618(4608.75)</div><div class="t" style="left:1328.5px;top:26.5px;font-size:12.2px;line-height:14.6px;color:#f44336;font-weight:400;">0.5(4610.37)</div><div class="t" style="left:1326.5px;top:133.1px;font-size:12.5px;line-height:15.0px;color:#4caf50;font-weight:400;">0.382(4461.45)</div><div class="lg" style="left:2px;top:2px;width:467px;height:24px"></div><div class="lg" style="left:2px;top:26px;width:176px;height:46px"></div><div class="lg" style="left:2px;top:72px;width:148px;height:48px"></div><div class="t" style="left:6.8px;top:6.2px;font-size:15.6px;line-height:18.7px;color:#131722;font-weight:400;">Euro50</div><div class="t" style="left:59.5px;top:6.2px;font-size:15.6px;line-height:18.7px;color:#9598a1;font-weight:400;">&middot;</div><div class="t" style="left:68px;top:6.1px;font-size:15.8px;line-height:19.0px;color:#131722;font-weight:400;">4h</div><div style="position:absolute;left:100px;top:5px;width:18px;height:18px;border-radius:9px;background:rgba(8,153,129,0.18)"></div><div style="position:absolute;left:105px;top:10px;width:8px;height:8px;border-radius:4px;background:#089981"></div><div class="t" style="left:134px;top:8.5px;font-size:12.7px;line-height:15px;color:#ef5350;word-spacing:1.9px"><span class="k">O</span>4517.73 <span class="k">H</span>4520.42 <span class="k">B</span>4505.27 <span class="k">C</span>4511.26 &minus;6.47 (&minus;0.14%)</div><div class="btn" style="left:6px;top:30px;border-color:#ef5350;color:#ef5350">4511.26</div><div class="btn" style="left:112px;top:30px;border-color:#26a69a;color:#26a69a">4512.49</div><div class="t c" style="left:72px;width:36px;top:31.2px;font-size:10.5px;line-height:13px;color:#6a6d78">1.23</div><div class="t c" style="left:72px;width:36px;top:46px;height:21px;border-radius:4px;background:#f3f5fb;font-size:13.2px;line-height:22px;color:#131722">200</div><div class="t" style="left:7px;top:77.5px;font-size:12.6px;line-height:15.1px;color:#4a4e5a;font-weight:400;">EMA 13 close 0</div><div class="t" style="left:100.7px;top:77.4px;font-size:12.8px;line-height:15.4px;color:#e91e63;font-weight:400;">4521.04</div><div class="t" style="left:7px;top:101.5px;font-size:12.6px;line-height:15.1px;color:#4a4e5a;font-weight:400;">EMA 21 close 0</div><div class="t" style="left:100.7px;top:101.4px;font-size:12.8px;line-height:15.4px;color:#9c27b0;font-weight:400;">4524.09</div><div style="position:absolute;left:7px;top:122px;width:27px;height:19px;border:1px solid #d9dbe2;border-radius:3px;background:rgba(255,255,255,0.88)"><svg width="27" height="19" style="position:absolute;left:0;top:0"><path d="M10.2 11.6 L13.7 8 L17.2 11.6" fill="none" stroke="#131722" stroke-width="1.3"/></svg></div><div class="t" style="left:7px;top:544.0px;font-size:12.2px;line-height:14.6px;color:#4a4e5a;font-weight:400;">DMI 14 14</div><div class="t" style="left:71.3px;top:543.3px;font-size:12.8px;line-height:15.4px;color:#2196f3;font-weight:400;">16.5919</div><div class="t" style="left:122.6px;top:543.3px;font-size:12.8px;line-height:15.4px;color:#ff6d00;font-weight:400;">25.2026</div><div class="t" style="left:175px;top:543.3px;font-size:12.8px;line-height:15.4px;color:#f0145a;font-weight:400;">16.9458</div><svg width="20" height="20" style="position:absolute;left:1795.1px;top:784.1px" viewBox="0 0 20 20"><circle cx="10" cy="10" r="4.6" fill="none" stroke="#131722" stroke-width="1.15"/><g stroke="#131722" stroke-width="1.2"><line x1="15.00" y1="10.00" x2="17.30" y2="10.00"/><line x1="13.54" y1="13.54" x2="15.16" y2="15.16"/><line x1="10.00" y1="15.00" x2="10.00" y2="17.30"/><line x1="6.46" y1="13.54" x2="4.84" y2="15.16"/><line x1="5.00" y1="10.00" x2="2.70" y2="10.00"/><line x1="6.46" y1="6.46" x2="4.84" y2="4.84"/><line x1="10.00" y1="5.00" x2="10.00" y2="2.70"/><line x1="13.54" y1="6.46" x2="15.16" y2="4.84"/></g></svg></body></html>
